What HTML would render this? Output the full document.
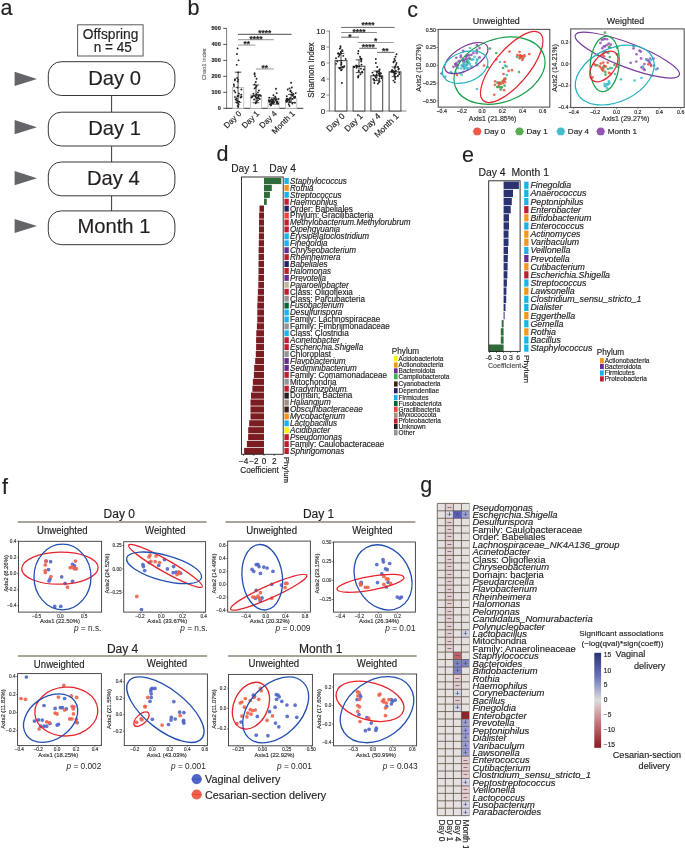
<!DOCTYPE html><html><head><meta charset="utf-8"><style>html,body{margin:0;padding:0;background:#fff;}svg{display:block;will-change:transform;font-family:"Liberation Sans", sans-serif;}</style></head><body><svg width="685" height="848" viewBox="0 0 685 848" fill="#231f20"><rect width="685" height="848" fill="#fff"/><text x="0.60" y="14.80" font-size="21.5px" stroke="#231f20" stroke-width="0.16">a</text>
<rect x="77.60" y="24.80" width="65.50" height="31.20" fill="#fff" stroke="#58595b" stroke-width="1.0"/>
<text x="0" y="0" transform="translate(110.60,38.70) scale(1,1.09)" font-size="13.8px" stroke="#231f20" stroke-width="0.16" text-anchor="middle">Offspring</text>
<text x="0" y="0" transform="translate(112.70,52.10) scale(1,1.1)" font-size="13.6px" stroke="#231f20" stroke-width="0.16" text-anchor="middle">n = 45</text>
<rect x="48.30" y="61.70" width="126.60" height="33.80" fill="#fff" stroke="#231f20" stroke-width="0.9" rx="13"/>
<text x="114.50" y="85.40" font-size="20.2px" stroke="#231f20" stroke-width="0.16" text-anchor="middle">Day 0</text>
<polygon points="14.6,71.80 37,78.90 14.6,86.00" fill="#646569"/>
<line x1="111.60" y1="95.70" x2="111.60" y2="112.20" stroke="#231f20" stroke-width="0.9"/>
<rect x="48.30" y="112.20" width="126.60" height="33.80" fill="#fff" stroke="#231f20" stroke-width="0.9" rx="13"/>
<text x="114.50" y="134.70" font-size="20.2px" stroke="#231f20" stroke-width="0.16" text-anchor="middle">Day 1</text>
<polygon points="14.6,120.10 37,127.20 14.6,134.30" fill="#646569"/>
<line x1="111.60" y1="146.20" x2="111.60" y2="162.00" stroke="#231f20" stroke-width="0.9"/>
<rect x="48.30" y="162.00" width="126.60" height="33.80" fill="#fff" stroke="#231f20" stroke-width="0.9" rx="13"/>
<text x="113.30" y="184.60" font-size="20.2px" stroke="#231f20" stroke-width="0.16" text-anchor="middle">Day 4</text>
<polygon points="14.6,171.10 37,178.20 14.6,185.30" fill="#646569"/>
<line x1="111.60" y1="196.00" x2="111.60" y2="210.90" stroke="#231f20" stroke-width="0.9"/>
<rect x="48.30" y="210.90" width="126.60" height="33.80" fill="#fff" stroke="#231f20" stroke-width="0.9" rx="13"/>
<text x="113.90" y="232.90" font-size="20.2px" stroke="#231f20" stroke-width="0.16" text-anchor="middle">Month 1</text>
<polygon points="14.6,218.90 37,226.00 14.6,233.10" fill="#646569"/>
<text x="187.40" y="15.10" font-size="21.5px" stroke="#231f20" stroke-width="0.16">b</text>
<line x1="226.60" y1="28.40" x2="226.60" y2="108.70" stroke="#7f7f7f" stroke-width="1.0"/>
<line x1="226.20" y1="108.30" x2="303.30" y2="108.30" stroke="#231f20" stroke-width="0.9"/>
<line x1="223.30" y1="108.30" x2="226.60" y2="108.30" stroke="#231f20" stroke-width="0.8"/>
<text x="220.80" y="110.30" font-size="5.6px" stroke="#231f20" stroke-width="0.16" text-anchor="end" font-weight="bold">0</text>
<line x1="223.30" y1="92.33" x2="226.60" y2="92.33" stroke="#231f20" stroke-width="0.8"/>
<text x="220.80" y="94.33" font-size="5.6px" stroke="#231f20" stroke-width="0.16" text-anchor="end" font-weight="bold">100</text>
<line x1="223.30" y1="76.35" x2="226.60" y2="76.35" stroke="#231f20" stroke-width="0.8"/>
<text x="220.80" y="78.35" font-size="5.6px" stroke="#231f20" stroke-width="0.16" text-anchor="end" font-weight="bold">200</text>
<line x1="223.30" y1="60.37" x2="226.60" y2="60.37" stroke="#231f20" stroke-width="0.8"/>
<text x="220.80" y="62.37" font-size="5.6px" stroke="#231f20" stroke-width="0.16" text-anchor="end" font-weight="bold">300</text>
<line x1="223.30" y1="44.40" x2="226.60" y2="44.40" stroke="#231f20" stroke-width="0.8"/>
<text x="220.80" y="46.40" font-size="5.6px" stroke="#231f20" stroke-width="0.16" text-anchor="end" font-weight="bold">400</text>
<line x1="223.30" y1="28.42" x2="226.60" y2="28.42" stroke="#231f20" stroke-width="0.8"/>
<text x="220.80" y="30.42" font-size="5.6px" stroke="#231f20" stroke-width="0.16" text-anchor="end" font-weight="bold">500</text>
<text x="0" y="0" transform="translate(205.90,64.20) rotate(-90)" font-size="5.6px" stroke="#6d6e71" stroke-width="0.16" text-anchor="middle" fill="#6d6e71">Chao1 Index</text>
<rect x="232.50" y="87.53" width="11.20" height="20.77" fill="#fff" stroke="#bcbec0" stroke-width="0.9"/>
<rect x="250.40" y="94.88" width="11.20" height="13.42" fill="#fff" stroke="#bcbec0" stroke-width="0.9"/>
<rect x="268.00" y="101.11" width="11.20" height="7.19" fill="#fff" stroke="#bcbec0" stroke-width="0.9"/>
<rect x="285.60" y="98.56" width="11.20" height="9.74" fill="#fff" stroke="#bcbec0" stroke-width="0.9"/>
<circle cx="237.54" cy="48.39" r="0.95" fill="#231f20"/>
<circle cx="236.98" cy="53.98" r="0.95" fill="#231f20"/>
<circle cx="238.58" cy="60.37" r="0.95" fill="#231f20"/>
<circle cx="236.73" cy="64.85" r="0.95" fill="#231f20"/>
<circle cx="238.21" cy="72.36" r="0.95" fill="#231f20"/>
<circle cx="237.16" cy="77.95" r="0.95" fill="#231f20"/>
<circle cx="235.01" cy="79.23" r="0.95" fill="#231f20"/>
<circle cx="238.15" cy="79.86" r="0.95" fill="#231f20"/>
<circle cx="234.86" cy="80.34" r="0.95" fill="#231f20"/>
<circle cx="237.64" cy="81.46" r="0.95" fill="#231f20"/>
<circle cx="233.80" cy="84.34" r="0.95" fill="#231f20"/>
<circle cx="234.01" cy="85.94" r="0.95" fill="#231f20"/>
<circle cx="237.35" cy="87.53" r="0.95" fill="#231f20"/>
<circle cx="241.37" cy="89.45" r="0.95" fill="#231f20"/>
<circle cx="234.34" cy="90.73" r="0.95" fill="#231f20"/>
<circle cx="235.33" cy="92.33" r="0.95" fill="#231f20"/>
<circle cx="238.99" cy="93.60" r="0.95" fill="#231f20"/>
<circle cx="241.23" cy="94.72" r="0.95" fill="#231f20"/>
<circle cx="238.64" cy="95.84" r="0.95" fill="#231f20"/>
<circle cx="237.38" cy="96.32" r="0.95" fill="#231f20"/>
<circle cx="241.43" cy="96.80" r="0.95" fill="#231f20"/>
<circle cx="234.93" cy="97.12" r="0.95" fill="#231f20"/>
<circle cx="240.61" cy="97.44" r="0.95" fill="#231f20"/>
<circle cx="236.63" cy="98.40" r="0.95" fill="#231f20"/>
<circle cx="235.61" cy="99.51" r="0.95" fill="#231f20"/>
<circle cx="236.88" cy="100.31" r="0.95" fill="#231f20"/>
<circle cx="237.49" cy="101.11" r="0.95" fill="#231f20"/>
<circle cx="239.11" cy="101.59" r="0.95" fill="#231f20"/>
<circle cx="237.08" cy="102.71" r="0.95" fill="#231f20"/>
<circle cx="238.36" cy="103.83" r="0.95" fill="#231f20"/>
<circle cx="238.54" cy="104.79" r="0.95" fill="#231f20"/>
<circle cx="237.69" cy="105.90" r="0.95" fill="#231f20"/>
<circle cx="238.25" cy="107.02" r="0.95" fill="#231f20"/>
<line x1="238.10" y1="72.20" x2="238.10" y2="102.29" stroke="#231f20" stroke-width="0.8"/>
<line x1="234.80" y1="72.20" x2="241.40" y2="72.20" stroke="#231f20" stroke-width="0.8"/>
<line x1="234.80" y1="102.29" x2="241.40" y2="102.29" stroke="#231f20" stroke-width="0.8"/>
<circle cx="254.60" cy="73.16" r="0.95" fill="#231f20"/>
<circle cx="254.59" cy="74.43" r="0.95" fill="#231f20"/>
<circle cx="255.06" cy="76.35" r="0.95" fill="#231f20"/>
<circle cx="256.58" cy="78.75" r="0.95" fill="#231f20"/>
<circle cx="255.77" cy="81.94" r="0.95" fill="#231f20"/>
<circle cx="254.70" cy="84.34" r="0.95" fill="#231f20"/>
<circle cx="256.60" cy="85.94" r="0.95" fill="#231f20"/>
<circle cx="255.67" cy="87.53" r="0.95" fill="#231f20"/>
<circle cx="254.60" cy="88.33" r="0.95" fill="#231f20"/>
<circle cx="258.94" cy="90.41" r="0.95" fill="#231f20"/>
<circle cx="257.99" cy="92.33" r="0.95" fill="#231f20"/>
<circle cx="253.44" cy="93.60" r="0.95" fill="#231f20"/>
<circle cx="256.74" cy="94.24" r="0.95" fill="#231f20"/>
<circle cx="256.25" cy="94.72" r="0.95" fill="#231f20"/>
<circle cx="259.75" cy="95.04" r="0.95" fill="#231f20"/>
<circle cx="258.29" cy="95.20" r="0.95" fill="#231f20"/>
<circle cx="253.88" cy="95.52" r="0.95" fill="#231f20"/>
<circle cx="260.80" cy="95.84" r="0.95" fill="#231f20"/>
<circle cx="252.18" cy="96.16" r="0.95" fill="#231f20"/>
<circle cx="255.18" cy="96.32" r="0.95" fill="#231f20"/>
<circle cx="258.57" cy="96.48" r="0.95" fill="#231f20"/>
<circle cx="252.52" cy="96.80" r="0.95" fill="#231f20"/>
<circle cx="255.89" cy="97.12" r="0.95" fill="#231f20"/>
<circle cx="251.39" cy="97.44" r="0.95" fill="#231f20"/>
<circle cx="257.68" cy="97.76" r="0.95" fill="#231f20"/>
<circle cx="258.65" cy="98.08" r="0.95" fill="#231f20"/>
<circle cx="256.73" cy="98.40" r="0.95" fill="#231f20"/>
<circle cx="259.75" cy="99.03" r="0.95" fill="#231f20"/>
<circle cx="254.14" cy="99.51" r="0.95" fill="#231f20"/>
<circle cx="257.95" cy="100.31" r="0.95" fill="#231f20"/>
<circle cx="256.66" cy="101.11" r="0.95" fill="#231f20"/>
<circle cx="256.56" cy="102.23" r="0.95" fill="#231f20"/>
<circle cx="255.69" cy="103.19" r="0.95" fill="#231f20"/>
<line x1="256.00" y1="84.98" x2="256.00" y2="102.71" stroke="#231f20" stroke-width="0.8"/>
<line x1="252.70" y1="84.98" x2="259.30" y2="84.98" stroke="#231f20" stroke-width="0.8"/>
<line x1="252.70" y1="102.71" x2="259.30" y2="102.71" stroke="#231f20" stroke-width="0.8"/>
<circle cx="275.98" cy="88.81" r="0.95" fill="#231f20"/>
<circle cx="276.71" cy="93.12" r="0.95" fill="#231f20"/>
<circle cx="273.42" cy="95.20" r="0.95" fill="#231f20"/>
<circle cx="275.24" cy="96.80" r="0.95" fill="#231f20"/>
<circle cx="269.21" cy="97.76" r="0.95" fill="#231f20"/>
<circle cx="275.61" cy="98.40" r="0.95" fill="#231f20"/>
<circle cx="275.07" cy="98.72" r="0.95" fill="#231f20"/>
<circle cx="278.53" cy="99.03" r="0.95" fill="#231f20"/>
<circle cx="276.82" cy="99.35" r="0.95" fill="#231f20"/>
<circle cx="271.45" cy="99.51" r="0.95" fill="#231f20"/>
<circle cx="272.46" cy="99.67" r="0.95" fill="#231f20"/>
<circle cx="275.29" cy="99.99" r="0.95" fill="#231f20"/>
<circle cx="268.83" cy="100.31" r="0.95" fill="#231f20"/>
<circle cx="273.22" cy="100.47" r="0.95" fill="#231f20"/>
<circle cx="270.28" cy="100.63" r="0.95" fill="#231f20"/>
<circle cx="269.77" cy="100.79" r="0.95" fill="#231f20"/>
<circle cx="269.19" cy="100.95" r="0.95" fill="#231f20"/>
<circle cx="276.28" cy="101.11" r="0.95" fill="#231f20"/>
<circle cx="269.89" cy="101.27" r="0.95" fill="#231f20"/>
<circle cx="271.08" cy="101.43" r="0.95" fill="#231f20"/>
<circle cx="272.51" cy="101.59" r="0.95" fill="#231f20"/>
<circle cx="277.31" cy="101.75" r="0.95" fill="#231f20"/>
<circle cx="269.41" cy="101.91" r="0.95" fill="#231f20"/>
<circle cx="273.09" cy="102.07" r="0.95" fill="#231f20"/>
<circle cx="274.09" cy="102.23" r="0.95" fill="#231f20"/>
<circle cx="277.43" cy="102.39" r="0.95" fill="#231f20"/>
<circle cx="276.79" cy="102.55" r="0.95" fill="#231f20"/>
<circle cx="277.24" cy="102.71" r="0.95" fill="#231f20"/>
<circle cx="271.38" cy="102.87" r="0.95" fill="#231f20"/>
<circle cx="272.75" cy="103.03" r="0.95" fill="#231f20"/>
<circle cx="272.19" cy="103.19" r="0.95" fill="#231f20"/>
<circle cx="277.44" cy="103.51" r="0.95" fill="#231f20"/>
<circle cx="278.18" cy="103.83" r="0.95" fill="#231f20"/>
<circle cx="270.11" cy="104.15" r="0.95" fill="#231f20"/>
<circle cx="270.36" cy="104.47" r="0.95" fill="#231f20"/>
<circle cx="270.92" cy="104.79" r="0.95" fill="#231f20"/>
<circle cx="270.93" cy="105.42" r="0.95" fill="#231f20"/>
<line x1="273.60" y1="97.92" x2="273.60" y2="104.15" stroke="#231f20" stroke-width="0.8"/>
<line x1="270.30" y1="97.92" x2="276.90" y2="97.92" stroke="#231f20" stroke-width="0.8"/>
<line x1="270.30" y1="104.15" x2="276.90" y2="104.15" stroke="#231f20" stroke-width="0.8"/>
<circle cx="291.15" cy="82.74" r="0.95" fill="#231f20"/>
<circle cx="291.82" cy="87.53" r="0.95" fill="#231f20"/>
<circle cx="289.54" cy="88.33" r="0.95" fill="#231f20"/>
<circle cx="287.73" cy="89.45" r="0.95" fill="#231f20"/>
<circle cx="290.63" cy="90.41" r="0.95" fill="#231f20"/>
<circle cx="290.28" cy="91.37" r="0.95" fill="#231f20"/>
<circle cx="291.66" cy="92.33" r="0.95" fill="#231f20"/>
<circle cx="295.73" cy="93.12" r="0.95" fill="#231f20"/>
<circle cx="293.10" cy="93.92" r="0.95" fill="#231f20"/>
<circle cx="291.35" cy="94.56" r="0.95" fill="#231f20"/>
<circle cx="292.38" cy="95.20" r="0.95" fill="#231f20"/>
<circle cx="292.96" cy="95.84" r="0.95" fill="#231f20"/>
<circle cx="286.74" cy="96.32" r="0.95" fill="#231f20"/>
<circle cx="295.20" cy="96.80" r="0.95" fill="#231f20"/>
<circle cx="294.00" cy="97.12" r="0.95" fill="#231f20"/>
<circle cx="294.95" cy="97.44" r="0.95" fill="#231f20"/>
<circle cx="294.18" cy="97.76" r="0.95" fill="#231f20"/>
<circle cx="290.12" cy="98.08" r="0.95" fill="#231f20"/>
<circle cx="290.19" cy="98.40" r="0.95" fill="#231f20"/>
<circle cx="287.24" cy="98.72" r="0.95" fill="#231f20"/>
<circle cx="292.54" cy="99.03" r="0.95" fill="#231f20"/>
<circle cx="286.82" cy="99.19" r="0.95" fill="#231f20"/>
<circle cx="286.87" cy="99.35" r="0.95" fill="#231f20"/>
<circle cx="288.29" cy="99.51" r="0.95" fill="#231f20"/>
<circle cx="287.82" cy="99.67" r="0.95" fill="#231f20"/>
<circle cx="289.60" cy="99.99" r="0.95" fill="#231f20"/>
<circle cx="286.73" cy="100.31" r="0.95" fill="#231f20"/>
<circle cx="286.20" cy="100.63" r="0.95" fill="#231f20"/>
<circle cx="287.71" cy="100.95" r="0.95" fill="#231f20"/>
<circle cx="287.21" cy="101.27" r="0.95" fill="#231f20"/>
<circle cx="289.84" cy="101.59" r="0.95" fill="#231f20"/>
<circle cx="286.46" cy="101.91" r="0.95" fill="#231f20"/>
<circle cx="294.94" cy="102.71" r="0.95" fill="#231f20"/>
<circle cx="292.34" cy="103.51" r="0.95" fill="#231f20"/>
<circle cx="288.74" cy="104.31" r="0.95" fill="#231f20"/>
<circle cx="289.47" cy="105.90" r="0.95" fill="#231f20"/>
<line x1="291.20" y1="94.40" x2="291.20" y2="102.55" stroke="#231f20" stroke-width="0.8"/>
<line x1="287.90" y1="94.40" x2="294.50" y2="94.40" stroke="#231f20" stroke-width="0.8"/>
<line x1="287.90" y1="102.55" x2="294.50" y2="102.55" stroke="#231f20" stroke-width="0.8"/>
<line x1="238.00" y1="34.30" x2="291.60" y2="34.30" stroke="#231f20" stroke-width="0.8"/>
<text x="264.80" y="35.97" font-size="8.4px" stroke="#231f20" stroke-width="0.16" text-anchor="middle" font-weight="bold">****</text>
<line x1="238.00" y1="39.60" x2="273.80" y2="39.60" stroke="#a7a9ac" stroke-width="1.2"/>
<text x="256.00" y="41.67" font-size="8.4px" stroke="#231f20" stroke-width="0.16" text-anchor="middle" font-weight="bold">****</text>
<line x1="238.00" y1="45.10" x2="255.40" y2="45.10" stroke="#a7a9ac" stroke-width="1.2"/>
<text x="246.80" y="47.07" font-size="8.4px" stroke="#231f20" stroke-width="0.16" text-anchor="middle" font-weight="bold">**</text>
<line x1="255.80" y1="69.00" x2="273.80" y2="69.00" stroke="#a7a9ac" stroke-width="1.2"/>
<text x="264.80" y="70.87" font-size="8.4px" stroke="#231f20" stroke-width="0.16" text-anchor="middle" font-weight="bold">**</text>
<text x="0" y="0" transform="translate(241.90,114.00) rotate(-45)" font-size="8.0px" stroke="#231f20" stroke-width="0.16" text-anchor="end">Day 0</text>
<text x="0" y="0" transform="translate(259.70,114.00) rotate(-45)" font-size="8.0px" stroke="#231f20" stroke-width="0.16" text-anchor="end">Day 1</text>
<text x="0" y="0" transform="translate(277.40,114.00) rotate(-45)" font-size="8.0px" stroke="#231f20" stroke-width="0.16" text-anchor="end">Day 4</text>
<text x="0" y="0" transform="translate(295.40,114.00) rotate(-45)" font-size="8.0px" stroke="#231f20" stroke-width="0.16" text-anchor="end">Month 1</text>
<line x1="329.40" y1="30.60" x2="329.40" y2="111.40" stroke="#808285" stroke-width="1.0"/>
<line x1="329.00" y1="111.00" x2="406.50" y2="111.00" stroke="#808285" stroke-width="1.0"/>
<line x1="326.40" y1="111.00" x2="329.40" y2="111.00" stroke="#808285" stroke-width="0.9"/>
<text x="325.30" y="113.90" font-size="8.1px" stroke="#231f20" stroke-width="0.16" text-anchor="end">0</text>
<line x1="326.40" y1="95.01" x2="329.40" y2="95.01" stroke="#808285" stroke-width="0.9"/>
<text x="325.30" y="97.91" font-size="8.1px" stroke="#231f20" stroke-width="0.16" text-anchor="end">2</text>
<line x1="326.40" y1="79.02" x2="329.40" y2="79.02" stroke="#808285" stroke-width="0.9"/>
<text x="325.30" y="81.92" font-size="8.1px" stroke="#231f20" stroke-width="0.16" text-anchor="end">4</text>
<line x1="326.40" y1="63.03" x2="329.40" y2="63.03" stroke="#808285" stroke-width="0.9"/>
<text x="325.30" y="65.93" font-size="8.1px" stroke="#231f20" stroke-width="0.16" text-anchor="end">6</text>
<line x1="326.40" y1="47.04" x2="329.40" y2="47.04" stroke="#808285" stroke-width="0.9"/>
<text x="325.30" y="49.94" font-size="8.1px" stroke="#231f20" stroke-width="0.16" text-anchor="end">8</text>
<line x1="326.40" y1="31.05" x2="329.40" y2="31.05" stroke="#808285" stroke-width="0.9"/>
<text x="325.30" y="33.95" font-size="8.1px" stroke="#231f20" stroke-width="0.16" text-anchor="end">10</text>
<text x="0" y="0" transform="translate(314.00,70.10) rotate(-90)" font-size="8.2px" stroke="#231f20" stroke-width="0.16" text-anchor="middle">Shannon Index</text>
<rect x="335.10" y="60.63" width="11.80" height="50.37" fill="#fff" stroke="#444446" stroke-width="1.0"/>
<rect x="353.10" y="66.23" width="11.80" height="44.77" fill="#fff" stroke="#444446" stroke-width="1.0"/>
<rect x="370.90" y="75.82" width="11.80" height="35.18" fill="#fff" stroke="#444446" stroke-width="1.0"/>
<rect x="389.10" y="71.82" width="11.80" height="39.18" fill="#fff" stroke="#444446" stroke-width="1.0"/>
<circle cx="340.51" cy="46.24" r="0.95" fill="#231f20"/>
<circle cx="340.57" cy="47.84" r="0.95" fill="#231f20"/>
<circle cx="339.79" cy="48.64" r="0.95" fill="#231f20"/>
<circle cx="342.12" cy="50.24" r="0.95" fill="#231f20"/>
<circle cx="342.58" cy="51.04" r="0.95" fill="#231f20"/>
<circle cx="340.89" cy="51.84" r="0.95" fill="#231f20"/>
<circle cx="340.95" cy="52.64" r="0.95" fill="#231f20"/>
<circle cx="338.10" cy="53.44" r="0.95" fill="#231f20"/>
<circle cx="338.22" cy="53.44" r="0.95" fill="#231f20"/>
<circle cx="339.90" cy="54.24" r="0.95" fill="#231f20"/>
<circle cx="339.35" cy="55.03" r="0.95" fill="#231f20"/>
<circle cx="343.30" cy="55.83" r="0.95" fill="#231f20"/>
<circle cx="338.63" cy="56.63" r="0.95" fill="#231f20"/>
<circle cx="336.04" cy="58.23" r="0.95" fill="#231f20"/>
<circle cx="345.69" cy="59.03" r="0.95" fill="#231f20"/>
<circle cx="341.29" cy="60.63" r="0.95" fill="#231f20"/>
<circle cx="337.32" cy="61.43" r="0.95" fill="#231f20"/>
<circle cx="341.45" cy="63.03" r="0.95" fill="#231f20"/>
<circle cx="336.08" cy="63.83" r="0.95" fill="#231f20"/>
<circle cx="341.20" cy="64.63" r="0.95" fill="#231f20"/>
<circle cx="344.35" cy="66.23" r="0.95" fill="#231f20"/>
<circle cx="343.54" cy="67.03" r="0.95" fill="#231f20"/>
<circle cx="342.37" cy="67.03" r="0.95" fill="#231f20"/>
<circle cx="339.33" cy="67.83" r="0.95" fill="#231f20"/>
<circle cx="340.07" cy="67.83" r="0.95" fill="#231f20"/>
<circle cx="339.93" cy="68.63" r="0.95" fill="#231f20"/>
<circle cx="341.87" cy="69.43" r="0.95" fill="#231f20"/>
<circle cx="341.10" cy="70.23" r="0.95" fill="#231f20"/>
<circle cx="341.89" cy="83.02" r="0.95" fill="#231f20"/>
<line x1="341.00" y1="53.44" x2="341.00" y2="67.83" stroke="#231f20" stroke-width="0.8"/>
<line x1="337.70" y1="53.44" x2="344.30" y2="53.44" stroke="#231f20" stroke-width="0.8"/>
<line x1="337.70" y1="67.83" x2="344.30" y2="67.83" stroke="#231f20" stroke-width="0.8"/>
<circle cx="358.45" cy="51.04" r="0.95" fill="#231f20"/>
<circle cx="358.11" cy="53.44" r="0.95" fill="#231f20"/>
<circle cx="360.00" cy="56.63" r="0.95" fill="#231f20"/>
<circle cx="360.55" cy="58.23" r="0.95" fill="#231f20"/>
<circle cx="361.47" cy="59.03" r="0.95" fill="#231f20"/>
<circle cx="361.14" cy="59.83" r="0.95" fill="#231f20"/>
<circle cx="361.23" cy="61.43" r="0.95" fill="#231f20"/>
<circle cx="361.49" cy="64.63" r="0.95" fill="#231f20"/>
<circle cx="356.16" cy="65.43" r="0.95" fill="#231f20"/>
<circle cx="359.18" cy="66.23" r="0.95" fill="#231f20"/>
<circle cx="357.50" cy="66.23" r="0.95" fill="#231f20"/>
<circle cx="354.10" cy="67.03" r="0.95" fill="#231f20"/>
<circle cx="354.09" cy="67.03" r="0.95" fill="#231f20"/>
<circle cx="356.71" cy="67.03" r="0.95" fill="#231f20"/>
<circle cx="356.50" cy="67.83" r="0.95" fill="#231f20"/>
<circle cx="361.00" cy="68.63" r="0.95" fill="#231f20"/>
<circle cx="363.75" cy="69.43" r="0.95" fill="#231f20"/>
<circle cx="358.63" cy="71.03" r="0.95" fill="#231f20"/>
<circle cx="362.06" cy="71.82" r="0.95" fill="#231f20"/>
<circle cx="362.42" cy="72.62" r="0.95" fill="#231f20"/>
<circle cx="360.46" cy="74.22" r="0.95" fill="#231f20"/>
<circle cx="358.57" cy="75.82" r="0.95" fill="#231f20"/>
<circle cx="358.11" cy="76.62" r="0.95" fill="#231f20"/>
<circle cx="358.13" cy="77.42" r="0.95" fill="#231f20"/>
<line x1="359.00" y1="59.83" x2="359.00" y2="72.62" stroke="#231f20" stroke-width="0.8"/>
<line x1="355.70" y1="59.83" x2="362.30" y2="59.83" stroke="#231f20" stroke-width="0.8"/>
<line x1="355.70" y1="72.62" x2="362.30" y2="72.62" stroke="#231f20" stroke-width="0.8"/>
<circle cx="375.83" cy="59.03" r="0.95" fill="#231f20"/>
<circle cx="375.85" cy="63.03" r="0.95" fill="#231f20"/>
<circle cx="377.20" cy="67.03" r="0.95" fill="#231f20"/>
<circle cx="379.60" cy="69.43" r="0.95" fill="#231f20"/>
<circle cx="379.18" cy="71.03" r="0.95" fill="#231f20"/>
<circle cx="376.66" cy="71.82" r="0.95" fill="#231f20"/>
<circle cx="377.87" cy="71.82" r="0.95" fill="#231f20"/>
<circle cx="379.92" cy="72.62" r="0.95" fill="#231f20"/>
<circle cx="372.48" cy="72.62" r="0.95" fill="#231f20"/>
<circle cx="378.47" cy="73.42" r="0.95" fill="#231f20"/>
<circle cx="381.06" cy="73.42" r="0.95" fill="#231f20"/>
<circle cx="379.74" cy="74.22" r="0.95" fill="#231f20"/>
<circle cx="379.40" cy="74.22" r="0.95" fill="#231f20"/>
<circle cx="376.57" cy="75.02" r="0.95" fill="#231f20"/>
<circle cx="373.46" cy="75.02" r="0.95" fill="#231f20"/>
<circle cx="379.81" cy="75.82" r="0.95" fill="#231f20"/>
<circle cx="375.06" cy="75.82" r="0.95" fill="#231f20"/>
<circle cx="379.93" cy="76.62" r="0.95" fill="#231f20"/>
<circle cx="381.71" cy="76.62" r="0.95" fill="#231f20"/>
<circle cx="375.72" cy="77.42" r="0.95" fill="#231f20"/>
<circle cx="375.77" cy="77.42" r="0.95" fill="#231f20"/>
<circle cx="381.45" cy="78.22" r="0.95" fill="#231f20"/>
<circle cx="379.14" cy="79.02" r="0.95" fill="#231f20"/>
<circle cx="373.37" cy="79.02" r="0.95" fill="#231f20"/>
<circle cx="374.19" cy="79.82" r="0.95" fill="#231f20"/>
<circle cx="374.36" cy="80.62" r="0.95" fill="#231f20"/>
<circle cx="379.63" cy="81.42" r="0.95" fill="#231f20"/>
<circle cx="378.95" cy="82.22" r="0.95" fill="#231f20"/>
<circle cx="374.32" cy="83.02" r="0.95" fill="#231f20"/>
<circle cx="377.84" cy="83.82" r="0.95" fill="#231f20"/>
<line x1="376.80" y1="71.03" x2="376.80" y2="80.62" stroke="#231f20" stroke-width="0.8"/>
<line x1="373.50" y1="71.03" x2="380.10" y2="71.03" stroke="#231f20" stroke-width="0.8"/>
<line x1="373.50" y1="80.62" x2="380.10" y2="80.62" stroke="#231f20" stroke-width="0.8"/>
<circle cx="396.54" cy="54.24" r="0.95" fill="#231f20"/>
<circle cx="395.50" cy="56.63" r="0.95" fill="#231f20"/>
<circle cx="394.52" cy="59.03" r="0.95" fill="#231f20"/>
<circle cx="395.16" cy="60.63" r="0.95" fill="#231f20"/>
<circle cx="393.82" cy="61.43" r="0.95" fill="#231f20"/>
<circle cx="393.45" cy="62.23" r="0.95" fill="#231f20"/>
<circle cx="396.51" cy="63.03" r="0.95" fill="#231f20"/>
<circle cx="396.05" cy="64.63" r="0.95" fill="#231f20"/>
<circle cx="395.19" cy="66.23" r="0.95" fill="#231f20"/>
<circle cx="398.04" cy="67.03" r="0.95" fill="#231f20"/>
<circle cx="394.54" cy="67.83" r="0.95" fill="#231f20"/>
<circle cx="398.87" cy="68.63" r="0.95" fill="#231f20"/>
<circle cx="398.39" cy="69.43" r="0.95" fill="#231f20"/>
<circle cx="391.99" cy="70.23" r="0.95" fill="#231f20"/>
<circle cx="392.42" cy="70.23" r="0.95" fill="#231f20"/>
<circle cx="392.85" cy="71.03" r="0.95" fill="#231f20"/>
<circle cx="392.30" cy="71.03" r="0.95" fill="#231f20"/>
<circle cx="395.90" cy="71.03" r="0.95" fill="#231f20"/>
<circle cx="392.50" cy="71.82" r="0.95" fill="#231f20"/>
<circle cx="394.16" cy="71.82" r="0.95" fill="#231f20"/>
<circle cx="391.16" cy="71.82" r="0.95" fill="#231f20"/>
<circle cx="399.26" cy="72.62" r="0.95" fill="#231f20"/>
<circle cx="393.48" cy="72.62" r="0.95" fill="#231f20"/>
<circle cx="394.56" cy="73.42" r="0.95" fill="#231f20"/>
<circle cx="395.87" cy="73.42" r="0.95" fill="#231f20"/>
<circle cx="399.20" cy="74.22" r="0.95" fill="#231f20"/>
<circle cx="394.17" cy="75.02" r="0.95" fill="#231f20"/>
<circle cx="397.92" cy="75.82" r="0.95" fill="#231f20"/>
<circle cx="395.01" cy="76.62" r="0.95" fill="#231f20"/>
<circle cx="395.22" cy="77.42" r="0.95" fill="#231f20"/>
<circle cx="395.16" cy="79.02" r="0.95" fill="#231f20"/>
<circle cx="393.46" cy="80.62" r="0.95" fill="#231f20"/>
<circle cx="394.81" cy="82.22" r="0.95" fill="#231f20"/>
<line x1="395.00" y1="67.03" x2="395.00" y2="76.62" stroke="#231f20" stroke-width="0.8"/>
<line x1="391.70" y1="67.03" x2="398.30" y2="67.03" stroke="#231f20" stroke-width="0.8"/>
<line x1="391.70" y1="76.62" x2="398.30" y2="76.62" stroke="#231f20" stroke-width="0.8"/>
<line x1="341.10" y1="27.40" x2="394.50" y2="27.40" stroke="#414042" stroke-width="0.8"/>
<text x="367.90" y="28.37" font-size="8.4px" stroke="#231f20" stroke-width="0.16" text-anchor="middle" font-weight="bold">****</text>
<line x1="341.10" y1="32.50" x2="376.90" y2="32.50" stroke="#6d6e71" stroke-width="0.8"/>
<text x="359.00" y="34.97" font-size="8.4px" stroke="#231f20" stroke-width="0.16" text-anchor="middle" font-weight="bold">****</text>
<line x1="341.10" y1="37.20" x2="359.00" y2="37.20" stroke="#414042" stroke-width="0.8"/>
<text x="350.00" y="40.07" font-size="8.4px" stroke="#231f20" stroke-width="0.16" text-anchor="middle" font-weight="bold">*</text>
<line x1="357.70" y1="42.50" x2="393.70" y2="42.50" stroke="#808285" stroke-width="0.8"/>
<text x="375.70" y="44.37" font-size="8.4px" stroke="#231f20" stroke-width="0.16" text-anchor="middle" font-weight="bold">*</text>
<line x1="359.20" y1="48.30" x2="376.90" y2="48.30" stroke="#414042" stroke-width="0.8"/>
<text x="368.20" y="49.87" font-size="8.4px" stroke="#231f20" stroke-width="0.16" text-anchor="middle" font-weight="bold">****</text>
<line x1="377.10" y1="52.40" x2="394.50" y2="52.40" stroke="#414042" stroke-width="0.8"/>
<text x="385.30" y="53.97" font-size="8.4px" stroke="#231f20" stroke-width="0.16" text-anchor="middle" font-weight="bold">**</text>
<text x="0" y="0" transform="translate(345.20,116.70) rotate(-45)" font-size="8.4px" stroke="#231f20" stroke-width="0.16" text-anchor="end">Day 0</text>
<text x="0" y="0" transform="translate(363.20,116.70) rotate(-45)" font-size="8.4px" stroke="#231f20" stroke-width="0.16" text-anchor="end">Day 1</text>
<text x="0" y="0" transform="translate(381.00,116.70) rotate(-45)" font-size="8.4px" stroke="#231f20" stroke-width="0.16" text-anchor="end">Day 4</text>
<text x="0" y="0" transform="translate(399.20,116.70) rotate(-45)" font-size="8.4px" stroke="#231f20" stroke-width="0.16" text-anchor="end">Month 1</text>
<text x="407.30" y="16.60" font-size="21.5px" stroke="#231f20" stroke-width="0.16">c</text>
<text x="0" y="0" transform="translate(496.30,23.60) scale(1,1.1)" font-size="8.9px" stroke="#231f20" stroke-width="0.16" text-anchor="middle">Unweighted</text>
<circle cx="466.44" cy="58.58" r="1.35" fill="#9150b4" fill-opacity="0.85"/>
<circle cx="466.48" cy="55.78" r="1.35" fill="#9150b4" fill-opacity="0.85"/>
<circle cx="453.44" cy="66.86" r="1.35" fill="#9150b4" fill-opacity="0.85"/>
<circle cx="458.59" cy="61.49" r="1.35" fill="#9150b4" fill-opacity="0.85"/>
<circle cx="455.33" cy="64.05" r="1.35" fill="#9150b4" fill-opacity="0.85"/>
<circle cx="466.00" cy="56.58" r="1.35" fill="#9150b4" fill-opacity="0.85"/>
<circle cx="459.72" cy="60.96" r="1.35" fill="#9150b4" fill-opacity="0.85"/>
<circle cx="466.67" cy="65.16" r="1.35" fill="#9150b4" fill-opacity="0.85"/>
<circle cx="455.33" cy="64.40" r="1.35" fill="#9150b4" fill-opacity="0.85"/>
<circle cx="463.17" cy="50.97" r="1.35" fill="#9150b4" fill-opacity="0.85"/>
<circle cx="456.25" cy="66.13" r="1.35" fill="#9150b4" fill-opacity="0.85"/>
<circle cx="456.07" cy="64.06" r="1.35" fill="#9150b4" fill-opacity="0.85"/>
<circle cx="460.97" cy="57.13" r="1.35" fill="#9150b4" fill-opacity="0.85"/>
<circle cx="456.40" cy="63.06" r="1.35" fill="#9150b4" fill-opacity="0.85"/>
<circle cx="476.90" cy="49.89" r="1.35" fill="#9150b4" fill-opacity="0.85"/>
<circle cx="477.01" cy="45.19" r="1.35" fill="#9150b4" fill-opacity="0.85"/>
<circle cx="467.67" cy="62.85" r="1.35" fill="#9150b4" fill-opacity="0.85"/>
<circle cx="479.56" cy="47.90" r="1.35" fill="#9150b4" fill-opacity="0.85"/>
<circle cx="469.42" cy="58.13" r="1.35" fill="#9150b4" fill-opacity="0.85"/>
<circle cx="463.26" cy="60.65" r="1.35" fill="#9150b4" fill-opacity="0.85"/>
<circle cx="466.89" cy="59.60" r="1.35" fill="#9150b4" fill-opacity="0.85"/>
<circle cx="456.26" cy="57.76" r="1.35" fill="#9150b4" fill-opacity="0.85"/>
<circle cx="469.17" cy="55.22" r="1.35" fill="#9150b4" fill-opacity="0.85"/>
<circle cx="460.86" cy="55.50" r="1.35" fill="#9150b4" fill-opacity="0.85"/>
<circle cx="479.53" cy="57.42" r="1.35" fill="#9150b4" fill-opacity="0.85"/>
<circle cx="471.42" cy="54.78" r="1.35" fill="#9150b4" fill-opacity="0.85"/>
<circle cx="473.39" cy="53.00" r="1.35" fill="#9150b4" fill-opacity="0.85"/>
<circle cx="441.58" cy="73.60" r="1.35" fill="#9150b4" fill-opacity="0.85"/>
<circle cx="467.49" cy="55.50" r="1.35" fill="#9150b4" fill-opacity="0.85"/>
<circle cx="457.90" cy="65.26" r="1.35" fill="#9150b4" fill-opacity="0.85"/>
<circle cx="464.12" cy="61.91" r="1.35" fill="#9150b4" fill-opacity="0.85"/>
<circle cx="463.12" cy="66.21" r="1.35" fill="#9150b4" fill-opacity="0.85"/>
<circle cx="476.66" cy="52.99" r="1.35" fill="#9150b4" fill-opacity="0.85"/>
<circle cx="464.66" cy="59.56" r="1.35" fill="#9150b4" fill-opacity="0.85"/>
<circle cx="462.56" cy="65.56" r="1.35" fill="#9150b4" fill-opacity="0.85"/>
<circle cx="462.96" cy="60.14" r="1.35" fill="#9150b4" fill-opacity="0.85"/>
<circle cx="477.52" cy="59.20" r="1.35" fill="#3dbfcb" fill-opacity="0.85"/>
<circle cx="467.13" cy="64.42" r="1.35" fill="#3dbfcb" fill-opacity="0.85"/>
<circle cx="463.78" cy="67.68" r="1.35" fill="#3dbfcb" fill-opacity="0.85"/>
<circle cx="463.29" cy="62.98" r="1.35" fill="#3dbfcb" fill-opacity="0.85"/>
<circle cx="470.72" cy="66.66" r="1.35" fill="#3dbfcb" fill-opacity="0.85"/>
<circle cx="474.57" cy="56.81" r="1.35" fill="#3dbfcb" fill-opacity="0.85"/>
<circle cx="464.26" cy="68.78" r="1.35" fill="#3dbfcb" fill-opacity="0.85"/>
<circle cx="471.65" cy="59.77" r="1.35" fill="#3dbfcb" fill-opacity="0.85"/>
<circle cx="461.69" cy="65.44" r="1.35" fill="#3dbfcb" fill-opacity="0.85"/>
<circle cx="476.11" cy="63.12" r="1.35" fill="#3dbfcb" fill-opacity="0.85"/>
<circle cx="460.99" cy="68.48" r="1.35" fill="#3dbfcb" fill-opacity="0.85"/>
<circle cx="473.26" cy="59.46" r="1.35" fill="#3dbfcb" fill-opacity="0.85"/>
<circle cx="463.88" cy="64.48" r="1.35" fill="#3dbfcb" fill-opacity="0.85"/>
<circle cx="464.86" cy="64.52" r="1.35" fill="#3dbfcb" fill-opacity="0.85"/>
<circle cx="467.86" cy="60.60" r="1.35" fill="#3dbfcb" fill-opacity="0.85"/>
<circle cx="459.91" cy="73.16" r="1.35" fill="#3dbfcb" fill-opacity="0.85"/>
<circle cx="468.65" cy="62.47" r="1.35" fill="#3dbfcb" fill-opacity="0.85"/>
<circle cx="471.94" cy="66.68" r="1.35" fill="#3dbfcb" fill-opacity="0.85"/>
<circle cx="464.64" cy="68.20" r="1.35" fill="#3dbfcb" fill-opacity="0.85"/>
<circle cx="465.37" cy="66.89" r="1.35" fill="#3dbfcb" fill-opacity="0.85"/>
<circle cx="467.07" cy="68.66" r="1.35" fill="#3dbfcb" fill-opacity="0.85"/>
<circle cx="461.65" cy="74.72" r="1.35" fill="#3dbfcb" fill-opacity="0.85"/>
<circle cx="463.14" cy="71.95" r="1.35" fill="#3dbfcb" fill-opacity="0.85"/>
<circle cx="468.27" cy="68.12" r="1.35" fill="#3dbfcb" fill-opacity="0.85"/>
<circle cx="469.81" cy="63.96" r="1.35" fill="#3dbfcb" fill-opacity="0.85"/>
<circle cx="476.97" cy="60.94" r="1.35" fill="#3dbfcb" fill-opacity="0.85"/>
<circle cx="458.12" cy="68.06" r="1.35" fill="#3dbfcb" fill-opacity="0.85"/>
<circle cx="445.34" cy="76.68" r="1.35" fill="#3dbfcb" fill-opacity="0.85"/>
<circle cx="477.37" cy="65.34" r="1.35" fill="#3dbfcb" fill-opacity="0.85"/>
<circle cx="455.68" cy="72.39" r="1.35" fill="#3dbfcb" fill-opacity="0.85"/>
<circle cx="466.10" cy="61.29" r="1.35" fill="#3dbfcb" fill-opacity="0.85"/>
<circle cx="450.95" cy="72.05" r="1.35" fill="#3dbfcb" fill-opacity="0.85"/>
<circle cx="477.00" cy="89.00" r="1.35" fill="#3dbfcb" fill-opacity="0.85"/>
<circle cx="499.80" cy="62.00" r="1.35" fill="#3dbfcb" fill-opacity="0.85"/>
<circle cx="505.00" cy="65.60" r="1.35" fill="#3dbfcb" fill-opacity="0.85"/>
<circle cx="506.80" cy="75.00" r="1.35" fill="#3dbfcb" fill-opacity="0.85"/>
<circle cx="470.00" cy="48.00" r="1.35" fill="#3dbfcb" fill-opacity="0.85"/>
<circle cx="452.00" cy="73.00" r="1.35" fill="#3dbfcb" fill-opacity="0.85"/>
<circle cx="490.00" cy="48.60" r="1.35" fill="#3fa556" fill-opacity="0.85"/>
<circle cx="496.30" cy="53.00" r="1.35" fill="#3fa556" fill-opacity="0.85"/>
<circle cx="487.60" cy="67.00" r="1.35" fill="#3fa556" fill-opacity="0.85"/>
<circle cx="519.00" cy="72.00" r="1.35" fill="#3fa556" fill-opacity="0.85"/>
<circle cx="520.00" cy="57.00" r="1.35" fill="#3fa556" fill-opacity="0.85"/>
<circle cx="523.00" cy="58.30" r="1.35" fill="#3fa556" fill-opacity="0.85"/>
<circle cx="517.00" cy="56.80" r="1.35" fill="#3fa556" fill-opacity="0.85"/>
<circle cx="506.50" cy="66.50" r="1.35" fill="#3fa556" fill-opacity="0.85"/>
<circle cx="503.00" cy="68.00" r="1.35" fill="#3fa556" fill-opacity="0.85"/>
<circle cx="467.00" cy="62.00" r="1.35" fill="#3fa556" fill-opacity="0.85"/>
<circle cx="470.00" cy="59.00" r="1.35" fill="#3fa556" fill-opacity="0.85"/>
<circle cx="504.60" cy="85.57" r="1.35" fill="#3fa556" fill-opacity="0.85"/>
<circle cx="503.98" cy="80.15" r="1.35" fill="#3fa556" fill-opacity="0.85"/>
<circle cx="497.49" cy="82.70" r="1.35" fill="#3fa556" fill-opacity="0.85"/>
<circle cx="499.63" cy="87.18" r="1.35" fill="#3fa556" fill-opacity="0.85"/>
<circle cx="501.68" cy="87.20" r="1.35" fill="#3fa556" fill-opacity="0.85"/>
<circle cx="500.30" cy="82.70" r="1.35" fill="#3fa556" fill-opacity="0.85"/>
<circle cx="501.48" cy="87.54" r="1.35" fill="#3fa556" fill-opacity="0.85"/>
<circle cx="505.44" cy="78.70" r="1.35" fill="#3fa556" fill-opacity="0.85"/>
<circle cx="498.75" cy="82.93" r="1.35" fill="#3fa556" fill-opacity="0.85"/>
<circle cx="500.68" cy="89.58" r="1.35" fill="#3fa556" fill-opacity="0.85"/>
<circle cx="497.95" cy="86.63" r="1.35" fill="#3fa556" fill-opacity="0.85"/>
<circle cx="497.18" cy="87.12" r="1.35" fill="#3fa556" fill-opacity="0.85"/>
<circle cx="529.30" cy="54.09" r="1.35" fill="#ea4f3c" fill-opacity="0.85"/>
<circle cx="519.99" cy="55.35" r="1.35" fill="#ea4f3c" fill-opacity="0.85"/>
<circle cx="524.35" cy="55.45" r="1.35" fill="#ea4f3c" fill-opacity="0.85"/>
<circle cx="521.92" cy="56.11" r="1.35" fill="#ea4f3c" fill-opacity="0.85"/>
<circle cx="519.66" cy="58.30" r="1.35" fill="#ea4f3c" fill-opacity="0.85"/>
<circle cx="520.12" cy="55.97" r="1.35" fill="#ea4f3c" fill-opacity="0.85"/>
<circle cx="521.72" cy="55.99" r="1.35" fill="#ea4f3c" fill-opacity="0.85"/>
<circle cx="521.89" cy="57.30" r="1.35" fill="#ea4f3c" fill-opacity="0.85"/>
<circle cx="521.34" cy="56.52" r="1.35" fill="#ea4f3c" fill-opacity="0.85"/>
<circle cx="524.36" cy="56.36" r="1.35" fill="#ea4f3c" fill-opacity="0.85"/>
<circle cx="522.40" cy="59.96" r="1.35" fill="#ea4f3c" fill-opacity="0.85"/>
<circle cx="517.41" cy="55.09" r="1.35" fill="#ea4f3c" fill-opacity="0.85"/>
<circle cx="519.56" cy="52.02" r="1.35" fill="#ea4f3c" fill-opacity="0.85"/>
<circle cx="503.10" cy="83.04" r="1.35" fill="#ea4f3c" fill-opacity="0.85"/>
<circle cx="494.28" cy="94.74" r="1.35" fill="#ea4f3c" fill-opacity="0.85"/>
<circle cx="504.08" cy="90.16" r="1.35" fill="#ea4f3c" fill-opacity="0.85"/>
<circle cx="499.20" cy="84.66" r="1.35" fill="#ea4f3c" fill-opacity="0.85"/>
<circle cx="504.63" cy="78.97" r="1.35" fill="#ea4f3c" fill-opacity="0.85"/>
<circle cx="495.13" cy="81.30" r="1.35" fill="#ea4f3c" fill-opacity="0.85"/>
<circle cx="500.90" cy="83.68" r="1.35" fill="#ea4f3c" fill-opacity="0.85"/>
<circle cx="494.96" cy="84.87" r="1.35" fill="#ea4f3c" fill-opacity="0.85"/>
<circle cx="503.95" cy="79.90" r="1.35" fill="#ea4f3c" fill-opacity="0.85"/>
<circle cx="502.63" cy="81.27" r="1.35" fill="#ea4f3c" fill-opacity="0.85"/>
<circle cx="505.09" cy="82.10" r="1.35" fill="#ea4f3c" fill-opacity="0.85"/>
<circle cx="498.92" cy="83.06" r="1.35" fill="#ea4f3c" fill-opacity="0.85"/>
<circle cx="509.50" cy="51.60" r="1.35" fill="#ea4f3c" fill-opacity="0.85"/>
<circle cx="504.70" cy="62.00" r="1.35" fill="#ea4f3c" fill-opacity="0.85"/>
<circle cx="508.60" cy="70.90" r="1.35" fill="#ea4f3c" fill-opacity="0.85"/>
<circle cx="512.00" cy="70.20" r="1.35" fill="#ea4f3c" fill-opacity="0.85"/>
<circle cx="484.00" cy="65.60" r="1.35" fill="#ea4f3c" fill-opacity="0.85"/>
<circle cx="457.00" cy="75.00" r="1.35" fill="#ea4f3c" fill-opacity="0.85"/>
<circle cx="496.30" cy="59.50" r="1.35" fill="#ea4f3c" fill-opacity="0.85"/>
<circle cx="503.50" cy="74.00" r="1.35" fill="#ea4f3c" fill-opacity="0.85"/>
<ellipse cx="511.70" cy="67.00" rx="44.00" ry="17.20" transform="rotate(-50 511.70 67.00)" fill="none" stroke="#e3242b" stroke-width="1.2"/>
<ellipse cx="499.50" cy="70.60" rx="47.00" ry="31.50" transform="rotate(-20 499.50 70.60)" fill="none" stroke="#16a049" stroke-width="1.2"/>
<ellipse cx="466.30" cy="58.10" rx="24.10" ry="11.40" transform="rotate(-30 466.30 58.10)" fill="none" stroke="#7a3c9f" stroke-width="1.2"/>
<ellipse cx="465.10" cy="67.10" rx="23.60" ry="15.00" transform="rotate(-20 465.10 67.10)" fill="none" stroke="#22b2bf" stroke-width="1.2"/>
<rect x="438.20" y="29.40" width="111.60" height="77.70" fill="none" stroke="#555555" stroke-width="1.1"/>
<line x1="441.70" y1="107.10" x2="441.70" y2="108.90" stroke="#555555" stroke-width="0.6"/>
<text x="441.70" y="113.32" font-size="5.2px" stroke="#231f20" stroke-width="0.16" text-anchor="middle">−0.4</text>
<line x1="461.90" y1="107.10" x2="461.90" y2="108.90" stroke="#555555" stroke-width="0.6"/>
<text x="461.90" y="113.32" font-size="5.2px" stroke="#231f20" stroke-width="0.16" text-anchor="middle">−0.2</text>
<line x1="482.10" y1="107.10" x2="482.10" y2="108.90" stroke="#555555" stroke-width="0.6"/>
<text x="482.10" y="113.32" font-size="5.2px" stroke="#231f20" stroke-width="0.16" text-anchor="middle">0.0</text>
<line x1="502.30" y1="107.10" x2="502.30" y2="108.90" stroke="#555555" stroke-width="0.6"/>
<text x="502.30" y="113.32" font-size="5.2px" stroke="#231f20" stroke-width="0.16" text-anchor="middle">0.2</text>
<line x1="522.50" y1="107.10" x2="522.50" y2="108.90" stroke="#555555" stroke-width="0.6"/>
<text x="522.50" y="113.32" font-size="5.2px" stroke="#231f20" stroke-width="0.16" text-anchor="middle">0.4</text>
<line x1="542.70" y1="107.10" x2="542.70" y2="108.90" stroke="#555555" stroke-width="0.6"/>
<text x="542.70" y="113.32" font-size="5.2px" stroke="#231f20" stroke-width="0.16" text-anchor="middle">0.6</text>
<line x1="436.40" y1="29.70" x2="438.20" y2="29.70" stroke="#555555" stroke-width="0.6"/>
<text x="435.80" y="31.57" font-size="5.2px" stroke="#231f20" stroke-width="0.16" text-anchor="end">0.50</text>
<line x1="436.40" y1="47.50" x2="438.20" y2="47.50" stroke="#555555" stroke-width="0.6"/>
<text x="435.80" y="49.37" font-size="5.2px" stroke="#231f20" stroke-width="0.16" text-anchor="end">0.25</text>
<line x1="436.40" y1="65.30" x2="438.20" y2="65.30" stroke="#555555" stroke-width="0.6"/>
<text x="435.80" y="67.17" font-size="5.2px" stroke="#231f20" stroke-width="0.16" text-anchor="end">0.00</text>
<line x1="436.40" y1="83.10" x2="438.20" y2="83.10" stroke="#555555" stroke-width="0.6"/>
<text x="435.80" y="84.97" font-size="5.2px" stroke="#231f20" stroke-width="0.16" text-anchor="end">−0.25</text>
<line x1="436.40" y1="100.90" x2="438.20" y2="100.90" stroke="#555555" stroke-width="0.6"/>
<text x="435.80" y="102.77" font-size="5.2px" stroke="#231f20" stroke-width="0.16" text-anchor="end">−0.50</text>
<text x="492.50" y="121.00" font-size="7.0px" stroke="#2b2b2b" stroke-width="0.16" text-anchor="middle" fill="#2b2b2b">Axis1 (21.85%)</text>
<text x="0" y="0" transform="translate(421.30,68.00) rotate(-90)" font-size="7.0px" stroke="#2b2b2b" stroke-width="0.16" text-anchor="middle" fill="#2b2b2b">Axis2 (10.27%)</text>
<text x="0" y="0" transform="translate(625.50,23.60) scale(1,1.1)" font-size="8.9px" stroke="#231f20" stroke-width="0.16" text-anchor="middle">Weighted</text>
<circle cx="606.68" cy="45.00" r="1.35" fill="#9150b4" fill-opacity="0.85"/>
<circle cx="604.03" cy="46.23" r="1.35" fill="#9150b4" fill-opacity="0.85"/>
<circle cx="607.10" cy="39.23" r="1.35" fill="#9150b4" fill-opacity="0.85"/>
<circle cx="601.88" cy="39.66" r="1.35" fill="#9150b4" fill-opacity="0.85"/>
<circle cx="603.43" cy="39.46" r="1.35" fill="#9150b4" fill-opacity="0.85"/>
<circle cx="610.72" cy="44.68" r="1.35" fill="#9150b4" fill-opacity="0.85"/>
<circle cx="604.96" cy="38.82" r="1.35" fill="#9150b4" fill-opacity="0.85"/>
<circle cx="600.42" cy="42.95" r="1.35" fill="#9150b4" fill-opacity="0.85"/>
<circle cx="609.78" cy="47.66" r="1.35" fill="#9150b4" fill-opacity="0.85"/>
<circle cx="604.98" cy="46.39" r="1.35" fill="#9150b4" fill-opacity="0.85"/>
<circle cx="604.50" cy="52.22" r="1.35" fill="#9150b4" fill-opacity="0.85"/>
<circle cx="606.46" cy="52.07" r="1.35" fill="#9150b4" fill-opacity="0.85"/>
<circle cx="608.69" cy="43.65" r="1.35" fill="#9150b4" fill-opacity="0.85"/>
<circle cx="602.30" cy="48.19" r="1.35" fill="#9150b4" fill-opacity="0.85"/>
<circle cx="639.47" cy="50.64" r="1.35" fill="#9150b4" fill-opacity="0.85"/>
<circle cx="636.48" cy="54.23" r="1.35" fill="#9150b4" fill-opacity="0.85"/>
<circle cx="648.99" cy="61.59" r="1.35" fill="#9150b4" fill-opacity="0.85"/>
<circle cx="644.67" cy="69.89" r="1.35" fill="#9150b4" fill-opacity="0.85"/>
<circle cx="641.53" cy="67.32" r="1.35" fill="#9150b4" fill-opacity="0.85"/>
<circle cx="647.82" cy="60.17" r="1.35" fill="#9150b4" fill-opacity="0.85"/>
<circle cx="643.59" cy="68.90" r="1.35" fill="#9150b4" fill-opacity="0.85"/>
<circle cx="640.73" cy="51.58" r="1.35" fill="#9150b4" fill-opacity="0.85"/>
<circle cx="642.55" cy="67.00" r="1.35" fill="#9150b4" fill-opacity="0.85"/>
<circle cx="636.25" cy="61.48" r="1.35" fill="#9150b4" fill-opacity="0.85"/>
<circle cx="657.46" cy="68.61" r="1.35" fill="#9150b4" fill-opacity="0.85"/>
<circle cx="651.93" cy="75.75" r="1.35" fill="#9150b4" fill-opacity="0.85"/>
<circle cx="646.38" cy="59.56" r="1.35" fill="#9150b4" fill-opacity="0.85"/>
<circle cx="630.68" cy="62.83" r="1.35" fill="#9150b4" fill-opacity="0.85"/>
<circle cx="653.57" cy="58.70" r="1.35" fill="#9150b4" fill-opacity="0.85"/>
<circle cx="644.36" cy="64.09" r="1.35" fill="#9150b4" fill-opacity="0.85"/>
<circle cx="650.18" cy="58.62" r="1.35" fill="#9150b4" fill-opacity="0.85"/>
<circle cx="641.14" cy="58.38" r="1.35" fill="#9150b4" fill-opacity="0.85"/>
<circle cx="633.80" cy="46.30" r="1.35" fill="#9150b4" fill-opacity="0.85"/>
<circle cx="633.50" cy="48.50" r="1.35" fill="#9150b4" fill-opacity="0.85"/>
<circle cx="650.00" cy="63.00" r="1.35" fill="#9150b4" fill-opacity="0.85"/>
<circle cx="654.00" cy="65.50" r="1.35" fill="#9150b4" fill-opacity="0.85"/>
<circle cx="651.00" cy="65.00" r="1.35" fill="#9150b4" fill-opacity="0.85"/>
<circle cx="594.23" cy="64.14" r="1.35" fill="#ea4f3c" fill-opacity="0.85"/>
<circle cx="608.98" cy="72.86" r="1.35" fill="#ea4f3c" fill-opacity="0.85"/>
<circle cx="595.66" cy="65.43" r="1.35" fill="#ea4f3c" fill-opacity="0.85"/>
<circle cx="603.16" cy="62.53" r="1.35" fill="#ea4f3c" fill-opacity="0.85"/>
<circle cx="607.69" cy="62.54" r="1.35" fill="#ea4f3c" fill-opacity="0.85"/>
<circle cx="604.34" cy="66.07" r="1.35" fill="#ea4f3c" fill-opacity="0.85"/>
<circle cx="599.63" cy="66.29" r="1.35" fill="#ea4f3c" fill-opacity="0.85"/>
<circle cx="603.29" cy="68.61" r="1.35" fill="#ea4f3c" fill-opacity="0.85"/>
<circle cx="602.06" cy="69.62" r="1.35" fill="#ea4f3c" fill-opacity="0.85"/>
<circle cx="604.13" cy="65.75" r="1.35" fill="#ea4f3c" fill-opacity="0.85"/>
<circle cx="604.04" cy="56.44" r="1.35" fill="#ea4f3c" fill-opacity="0.85"/>
<circle cx="610.66" cy="73.82" r="1.35" fill="#ea4f3c" fill-opacity="0.85"/>
<circle cx="602.02" cy="55.52" r="1.35" fill="#ea4f3c" fill-opacity="0.85"/>
<circle cx="603.04" cy="70.67" r="1.35" fill="#ea4f3c" fill-opacity="0.85"/>
<circle cx="592.53" cy="77.42" r="1.35" fill="#ea4f3c" fill-opacity="0.85"/>
<circle cx="600.79" cy="63.49" r="1.35" fill="#ea4f3c" fill-opacity="0.85"/>
<circle cx="601.11" cy="67.75" r="1.35" fill="#ea4f3c" fill-opacity="0.85"/>
<circle cx="605.77" cy="66.69" r="1.35" fill="#ea4f3c" fill-opacity="0.85"/>
<circle cx="648.30" cy="64.30" r="1.35" fill="#ea4f3c" fill-opacity="0.85"/>
<circle cx="651.00" cy="66.00" r="1.35" fill="#ea4f3c" fill-opacity="0.85"/>
<circle cx="608.29" cy="52.93" r="1.35" fill="#3fa556" fill-opacity="0.85"/>
<circle cx="609.83" cy="57.02" r="1.35" fill="#3fa556" fill-opacity="0.85"/>
<circle cx="605.35" cy="71.90" r="1.35" fill="#3fa556" fill-opacity="0.85"/>
<circle cx="607.96" cy="68.99" r="1.35" fill="#3fa556" fill-opacity="0.85"/>
<circle cx="616.99" cy="54.35" r="1.35" fill="#3fa556" fill-opacity="0.85"/>
<circle cx="608.95" cy="46.94" r="1.35" fill="#3fa556" fill-opacity="0.85"/>
<circle cx="617.19" cy="47.70" r="1.35" fill="#3fa556" fill-opacity="0.85"/>
<circle cx="597.65" cy="55.15" r="1.35" fill="#3fa556" fill-opacity="0.85"/>
<circle cx="614.50" cy="64.97" r="1.35" fill="#3fa556" fill-opacity="0.85"/>
<circle cx="597.24" cy="65.08" r="1.35" fill="#3fa556" fill-opacity="0.85"/>
<circle cx="603.22" cy="53.53" r="1.35" fill="#3fa556" fill-opacity="0.85"/>
<circle cx="617.99" cy="66.93" r="1.35" fill="#3fa556" fill-opacity="0.85"/>
<circle cx="610.33" cy="68.11" r="1.35" fill="#3fa556" fill-opacity="0.85"/>
<circle cx="603.43" cy="66.99" r="1.35" fill="#3fa556" fill-opacity="0.85"/>
<circle cx="604.96" cy="32.71" r="1.35" fill="#3fa556" fill-opacity="0.85"/>
<circle cx="605.49" cy="74.58" r="1.35" fill="#3fa556" fill-opacity="0.85"/>
<circle cx="604.80" cy="86.03" r="1.35" fill="#3dbfcb" fill-opacity="0.85"/>
<circle cx="604.57" cy="83.93" r="1.35" fill="#3dbfcb" fill-opacity="0.85"/>
<circle cx="607.08" cy="84.45" r="1.35" fill="#3dbfcb" fill-opacity="0.85"/>
<circle cx="608.92" cy="81.37" r="1.35" fill="#3dbfcb" fill-opacity="0.85"/>
<circle cx="607.22" cy="88.34" r="1.35" fill="#3dbfcb" fill-opacity="0.85"/>
<circle cx="609.28" cy="82.94" r="1.35" fill="#3dbfcb" fill-opacity="0.85"/>
<circle cx="607.25" cy="84.26" r="1.35" fill="#3dbfcb" fill-opacity="0.85"/>
<circle cx="608.31" cy="84.23" r="1.35" fill="#3dbfcb" fill-opacity="0.85"/>
<circle cx="607.86" cy="84.00" r="1.35" fill="#3dbfcb" fill-opacity="0.85"/>
<circle cx="605.80" cy="86.24" r="1.35" fill="#3dbfcb" fill-opacity="0.85"/>
<circle cx="621.00" cy="79.30" r="1.35" fill="#3dbfcb" fill-opacity="0.85"/>
<circle cx="634.60" cy="80.50" r="1.35" fill="#3dbfcb" fill-opacity="0.85"/>
<circle cx="641.40" cy="78.00" r="1.35" fill="#3dbfcb" fill-opacity="0.85"/>
<circle cx="643.00" cy="66.80" r="1.35" fill="#3dbfcb" fill-opacity="0.85"/>
<circle cx="646.60" cy="59.20" r="1.35" fill="#3dbfcb" fill-opacity="0.85"/>
<circle cx="651.00" cy="60.00" r="1.35" fill="#3dbfcb" fill-opacity="0.85"/>
<circle cx="656.00" cy="69.40" r="1.35" fill="#3dbfcb" fill-opacity="0.85"/>
<circle cx="633.80" cy="46.30" r="1.35" fill="#3dbfcb" fill-opacity="0.85"/>
<circle cx="612.00" cy="68.00" r="1.35" fill="#3dbfcb" fill-opacity="0.85"/>
<circle cx="615.00" cy="74.00" r="1.35" fill="#3dbfcb" fill-opacity="0.85"/>
<ellipse cx="627.30" cy="55.10" rx="55.70" ry="12.10" transform="rotate(21 627.30 55.10)" fill="none" stroke="#7a3c9f" stroke-width="1.2"/>
<ellipse cx="614.75" cy="75.05" rx="41.70" ry="26.70" transform="rotate(-25 614.75 75.05)" fill="none" stroke="#22b2bf" stroke-width="1.2"/>
<ellipse cx="604.70" cy="63.90" rx="27.90" ry="14.40" transform="rotate(-85 604.70 63.90)" fill="none" stroke="#16a049" stroke-width="1.2"/>
<ellipse cx="603.90" cy="66.50" rx="18.00" ry="10.50" transform="rotate(-50 603.90 66.50)" fill="none" stroke="#e3242b" stroke-width="1.2"/>
<rect x="570.70" y="28.90" width="113.50" height="78.60" fill="none" stroke="#555555" stroke-width="1.1"/>
<line x1="573.70" y1="107.50" x2="573.70" y2="109.30" stroke="#555555" stroke-width="0.6"/>
<text x="573.70" y="113.72" font-size="5.2px" stroke="#231f20" stroke-width="0.16" text-anchor="middle">−0.4</text>
<line x1="595.10" y1="107.50" x2="595.10" y2="109.30" stroke="#555555" stroke-width="0.6"/>
<text x="595.10" y="113.72" font-size="5.2px" stroke="#231f20" stroke-width="0.16" text-anchor="middle">−0.2</text>
<line x1="616.50" y1="107.50" x2="616.50" y2="109.30" stroke="#555555" stroke-width="0.6"/>
<text x="616.50" y="113.72" font-size="5.2px" stroke="#231f20" stroke-width="0.16" text-anchor="middle">0.0</text>
<line x1="637.90" y1="107.50" x2="637.90" y2="109.30" stroke="#555555" stroke-width="0.6"/>
<text x="637.90" y="113.72" font-size="5.2px" stroke="#231f20" stroke-width="0.16" text-anchor="middle">0.2</text>
<line x1="659.30" y1="107.50" x2="659.30" y2="109.30" stroke="#555555" stroke-width="0.6"/>
<text x="659.30" y="113.72" font-size="5.2px" stroke="#231f20" stroke-width="0.16" text-anchor="middle">0.4</text>
<line x1="680.70" y1="107.50" x2="680.70" y2="109.30" stroke="#555555" stroke-width="0.6"/>
<text x="680.70" y="113.72" font-size="5.2px" stroke="#231f20" stroke-width="0.16" text-anchor="middle">0.6</text>
<line x1="568.90" y1="42.20" x2="570.70" y2="42.20" stroke="#555555" stroke-width="0.6"/>
<text x="568.30" y="44.07" font-size="5.2px" stroke="#231f20" stroke-width="0.16" text-anchor="end">0.2</text>
<line x1="568.90" y1="63.90" x2="570.70" y2="63.90" stroke="#555555" stroke-width="0.6"/>
<text x="568.30" y="65.77" font-size="5.2px" stroke="#231f20" stroke-width="0.16" text-anchor="end">0.0</text>
<line x1="568.90" y1="85.60" x2="570.70" y2="85.60" stroke="#555555" stroke-width="0.6"/>
<text x="568.30" y="87.47" font-size="5.2px" stroke="#231f20" stroke-width="0.16" text-anchor="end">−0.2</text>
<line x1="568.90" y1="107.30" x2="570.70" y2="107.30" stroke="#555555" stroke-width="0.6"/>
<text x="568.30" y="109.17" font-size="5.2px" stroke="#231f20" stroke-width="0.16" text-anchor="end">−0.4</text>
<text x="625.50" y="121.00" font-size="7.0px" stroke="#2b2b2b" stroke-width="0.16" text-anchor="middle" fill="#2b2b2b">Axis1 (29.27%)</text>
<text x="0" y="0" transform="translate(556.50,68.00) rotate(-90)" font-size="7.0px" stroke="#2b2b2b" stroke-width="0.16" text-anchor="middle" fill="#2b2b2b">Axis2 (14.21%)</text>
<circle cx="477.20" cy="131.40" r="3.9" fill="#ef5a45"/>
<line x1="472.70" y1="131.40" x2="481.70" y2="131.40" stroke="#ef5a45" stroke-width="0.9"/>
<text x="484.20" y="134.40" font-size="8.1px" stroke="#231f20" stroke-width="0.16">Day 0</text>
<circle cx="519.50" cy="131.40" r="3.9" fill="#5aad55"/>
<line x1="515.00" y1="131.40" x2="524.00" y2="131.40" stroke="#5aad55" stroke-width="0.9"/>
<text x="526.50" y="134.40" font-size="8.1px" stroke="#231f20" stroke-width="0.16">Day 1</text>
<circle cx="560.80" cy="131.40" r="3.9" fill="#42bfcb"/>
<line x1="556.30" y1="131.40" x2="565.30" y2="131.40" stroke="#42bfcb" stroke-width="0.9"/>
<text x="567.80" y="134.40" font-size="8.1px" stroke="#231f20" stroke-width="0.16">Day 4</text>
<circle cx="600.70" cy="131.40" r="3.9" fill="#9654b5"/>
<line x1="596.20" y1="131.40" x2="605.20" y2="131.40" stroke="#9654b5" stroke-width="0.9"/>
<text x="607.70" y="134.40" font-size="8.1px" stroke="#231f20" stroke-width="0.16">Month 1</text>
<text x="216.40" y="160.80" font-size="21.5px" stroke="#231f20" stroke-width="0.16">d</text>
<text x="231.20" y="171.60" font-size="10.2px" stroke="#231f20" stroke-width="0.16">Day 1</text>
<text x="269.30" y="171.60" font-size="10.2px" stroke="#231f20" stroke-width="0.16">Day 4</text>
<rect x="264.00" y="177.85" width="17.30" height="6.22" fill="#2f6b3b"/>
<rect x="284.40" y="178.00" width="4.40" height="5.92" fill="#1cb1ec"/>
<text x="290.00" y="183.81" font-size="8.15px" stroke="#231f20" stroke-width="0.16" font-style="italic">Staphylococcus</text>
<rect x="264.00" y="184.78" width="7.80" height="6.22" fill="#2f6b3b"/>
<rect x="284.40" y="184.93" width="4.40" height="5.92" fill="#f7941d"/>
<text x="290.00" y="190.74" font-size="8.15px" stroke="#231f20" stroke-width="0.16" font-style="italic">Rothia</text>
<rect x="264.00" y="191.70" width="5.90" height="6.22" fill="#2f6b3b"/>
<rect x="284.40" y="191.85" width="4.40" height="5.92" fill="#1cb1ec"/>
<text x="290.00" y="197.66" font-size="8.15px" stroke="#231f20" stroke-width="0.16" font-style="italic">Streptococcus</text>
<rect x="264.00" y="198.62" width="2.80" height="6.22" fill="#2f6b3b"/>
<rect x="284.40" y="198.78" width="4.40" height="5.92" fill="#be1e2d"/>
<text x="290.00" y="204.59" font-size="8.15px" stroke="#231f20" stroke-width="0.16" font-style="italic">Haemophilus</text>
<rect x="259.50" y="205.55" width="4.50" height="6.22" fill="#7a1c22"/>
<rect x="284.40" y="205.70" width="4.40" height="5.92" fill="#262262"/>
<text x="290.00" y="211.51" font-size="8.15px" stroke="#231f20" stroke-width="0.16">Order: Babeliales</text>
<rect x="259.10" y="212.47" width="4.90" height="6.22" fill="#7a1c22"/>
<rect x="284.40" y="212.62" width="4.40" height="5.92" fill="#ef4136"/>
<text x="290.00" y="218.44" font-size="8.15px" stroke="#231f20" stroke-width="0.16">Phylum: Gracilibacteria</text>
<rect x="259.00" y="219.40" width="5.00" height="6.22" fill="#7a1c22"/>
<rect x="284.40" y="219.55" width="4.40" height="5.92" fill="#be1e2d"/>
<text x="290.00" y="225.36" font-size="8.15px" stroke="#231f20" stroke-width="0.16" font-style="italic">Methylobacterium.Methylorubrum</text>
<rect x="259.00" y="226.32" width="5.00" height="6.22" fill="#7a1c22"/>
<rect x="284.40" y="226.47" width="4.40" height="5.92" fill="#be1e2d"/>
<text x="290.00" y="232.29" font-size="8.15px" stroke="#231f20" stroke-width="0.16" font-style="italic">Qipengyuania</text>
<rect x="258.90" y="233.25" width="5.10" height="6.22" fill="#7a1c22"/>
<rect x="284.40" y="233.40" width="4.40" height="5.92" fill="#1cb1ec"/>
<text x="290.00" y="239.21" font-size="8.15px" stroke="#231f20" stroke-width="0.16" font-style="italic">Erysipelatoclostridium</text>
<rect x="258.80" y="240.17" width="5.20" height="6.22" fill="#7a1c22"/>
<rect x="284.40" y="240.32" width="4.40" height="5.92" fill="#1cb1ec"/>
<text x="290.00" y="246.14" font-size="8.15px" stroke="#231f20" stroke-width="0.16" font-style="italic">Finegoldia</text>
<rect x="258.60" y="247.10" width="5.40" height="6.22" fill="#7a1c22"/>
<rect x="284.40" y="247.25" width="4.40" height="5.92" fill="#6a2c91"/>
<text x="290.00" y="253.06" font-size="8.15px" stroke="#231f20" stroke-width="0.16" font-style="italic">Chryseobacterium</text>
<rect x="258.60" y="254.03" width="5.40" height="6.22" fill="#7a1c22"/>
<rect x="284.40" y="254.18" width="4.40" height="5.92" fill="#be1e2d"/>
<text x="290.00" y="259.99" font-size="8.15px" stroke="#231f20" stroke-width="0.16" font-style="italic">Rheinheimera</text>
<rect x="258.50" y="260.95" width="5.50" height="6.22" fill="#7a1c22"/>
<rect x="284.40" y="261.10" width="4.40" height="5.92" fill="#262262"/>
<text x="290.00" y="266.91" font-size="8.15px" stroke="#231f20" stroke-width="0.16" font-style="italic">Babeliales</text>
<rect x="258.50" y="267.88" width="5.50" height="6.22" fill="#7a1c22"/>
<rect x="284.40" y="268.02" width="4.40" height="5.92" fill="#be1e2d"/>
<text x="290.00" y="273.84" font-size="8.15px" stroke="#231f20" stroke-width="0.16" font-style="italic">Halomonas</text>
<rect x="258.40" y="274.80" width="5.60" height="6.22" fill="#7a1c22"/>
<rect x="284.40" y="274.95" width="4.40" height="5.92" fill="#6a2c91"/>
<text x="290.00" y="280.76" font-size="8.15px" stroke="#231f20" stroke-width="0.16" font-style="italic">Prevotella</text>
<rect x="258.30" y="281.73" width="5.70" height="6.22" fill="#7a1c22"/>
<rect x="284.40" y="281.88" width="4.40" height="5.92" fill="#c2b59b"/>
<text x="290.00" y="287.69" font-size="8.15px" stroke="#231f20" stroke-width="0.16" font-style="italic">Pajaroellobacter</text>
<rect x="257.90" y="288.65" width="6.10" height="6.22" fill="#7a1c22"/>
<rect x="284.40" y="288.80" width="4.40" height="5.92" fill="#be1e2d"/>
<text x="290.00" y="294.61" font-size="8.15px" stroke="#231f20" stroke-width="0.16">Class: Oligoflexia</text>
<rect x="257.60" y="295.58" width="6.40" height="6.22" fill="#7a1c22"/>
<rect x="284.40" y="295.73" width="4.40" height="5.92" fill="#939598"/>
<text x="290.00" y="301.54" font-size="8.15px" stroke="#231f20" stroke-width="0.16">Class: Parcubacteria</text>
<rect x="257.30" y="302.50" width="6.70" height="6.22" fill="#7a1c22"/>
<rect x="284.40" y="302.65" width="4.40" height="5.92" fill="#006838"/>
<text x="290.00" y="308.46" font-size="8.15px" stroke="#231f20" stroke-width="0.16" font-style="italic">Fusobacterium</text>
<rect x="257.30" y="309.43" width="6.70" height="6.22" fill="#7a1c22"/>
<rect x="284.40" y="309.57" width="4.40" height="5.92" fill="#1cb1ec"/>
<text x="290.00" y="315.39" font-size="8.15px" stroke="#231f20" stroke-width="0.16" font-style="italic">Desulfurispora</text>
<rect x="257.30" y="316.35" width="6.70" height="6.22" fill="#7a1c22"/>
<rect x="284.40" y="316.50" width="4.40" height="5.92" fill="#1cb1ec"/>
<text x="290.00" y="322.31" font-size="8.15px" stroke="#231f20" stroke-width="0.16">Family: Lachnospiraceae</text>
<rect x="256.90" y="323.27" width="7.10" height="6.22" fill="#7a1c22"/>
<rect x="284.40" y="323.42" width="4.40" height="5.92" fill="#939598"/>
<text x="290.00" y="329.24" font-size="8.15px" stroke="#231f20" stroke-width="0.16">Family: Fimbriimonadaceae</text>
<rect x="256.30" y="330.20" width="7.70" height="6.22" fill="#7a1c22"/>
<rect x="284.40" y="330.35" width="4.40" height="5.92" fill="#1cb1ec"/>
<text x="290.00" y="336.16" font-size="8.15px" stroke="#231f20" stroke-width="0.16">Class: Clostridia</text>
<rect x="256.10" y="337.12" width="7.90" height="6.22" fill="#7a1c22"/>
<rect x="284.40" y="337.27" width="4.40" height="5.92" fill="#be1e2d"/>
<text x="290.00" y="343.09" font-size="8.15px" stroke="#231f20" stroke-width="0.16" font-style="italic">Acinetobacter</text>
<rect x="256.10" y="344.05" width="7.90" height="6.22" fill="#7a1c22"/>
<rect x="284.40" y="344.20" width="4.40" height="5.92" fill="#be1e2d"/>
<text x="290.00" y="350.01" font-size="8.15px" stroke="#231f20" stroke-width="0.16" font-style="italic">Escherichia.Shigella</text>
<rect x="255.80" y="350.98" width="8.20" height="6.22" fill="#7a1c22"/>
<rect x="284.40" y="351.12" width="4.40" height="5.92" fill="#939598"/>
<text x="290.00" y="356.94" font-size="8.15px" stroke="#231f20" stroke-width="0.16">Chloroplast</text>
<rect x="255.20" y="357.90" width="8.80" height="6.22" fill="#7a1c22"/>
<rect x="284.40" y="358.05" width="4.40" height="5.92" fill="#6a2c91"/>
<text x="290.00" y="363.86" font-size="8.15px" stroke="#231f20" stroke-width="0.16" font-style="italic">Flavobacterium</text>
<rect x="254.20" y="364.83" width="9.80" height="6.22" fill="#7a1c22"/>
<rect x="284.40" y="364.98" width="4.40" height="5.92" fill="#6a2c91"/>
<text x="290.00" y="370.79" font-size="8.15px" stroke="#231f20" stroke-width="0.16" font-style="italic">Sediminibacterium</text>
<rect x="253.90" y="371.75" width="10.10" height="6.22" fill="#7a1c22"/>
<rect x="284.40" y="371.90" width="4.40" height="5.92" fill="#be1e2d"/>
<text x="290.00" y="377.71" font-size="8.15px" stroke="#231f20" stroke-width="0.16">Family: Comamonadaceae</text>
<rect x="252.90" y="378.68" width="11.10" height="6.22" fill="#7a1c22"/>
<rect x="284.40" y="378.82" width="4.40" height="5.92" fill="#939598"/>
<text x="290.00" y="384.64" font-size="8.15px" stroke="#231f20" stroke-width="0.16">Mitochondria</text>
<rect x="252.40" y="385.60" width="11.60" height="6.22" fill="#7a1c22"/>
<rect x="284.40" y="385.75" width="4.40" height="5.92" fill="#be1e2d"/>
<text x="290.00" y="391.56" font-size="8.15px" stroke="#231f20" stroke-width="0.16" font-style="italic">Bradyrhizobium</text>
<rect x="251.00" y="392.52" width="13.00" height="6.22" fill="#7a1c22"/>
<rect x="284.40" y="392.67" width="4.40" height="5.92" fill="#231f20"/>
<text x="290.00" y="398.49" font-size="8.15px" stroke="#231f20" stroke-width="0.16">Domain: Bacteria</text>
<rect x="250.50" y="399.45" width="13.50" height="6.22" fill="#7a1c22"/>
<rect x="284.40" y="399.60" width="4.40" height="5.92" fill="#a39081"/>
<text x="290.00" y="405.41" font-size="8.15px" stroke="#231f20" stroke-width="0.16" font-style="italic">Haliangium</text>
<rect x="250.50" y="406.38" width="13.50" height="6.22" fill="#7a1c22"/>
<rect x="284.40" y="406.52" width="4.40" height="5.92" fill="#3c2415"/>
<text x="290.00" y="412.34" font-size="8.15px" stroke="#231f20" stroke-width="0.16" font-style="italic">Obscuribacteraceae</text>
<rect x="250.50" y="413.30" width="13.50" height="6.22" fill="#7a1c22"/>
<rect x="284.40" y="413.45" width="4.40" height="5.92" fill="#f7941d"/>
<text x="290.00" y="419.26" font-size="8.15px" stroke="#231f20" stroke-width="0.16" font-style="italic">Mycobacterium</text>
<rect x="249.20" y="420.23" width="14.80" height="6.22" fill="#7a1c22"/>
<rect x="284.40" y="420.38" width="4.40" height="5.92" fill="#1cb1ec"/>
<text x="290.00" y="426.19" font-size="8.15px" stroke="#231f20" stroke-width="0.16" font-style="italic">Lactobacillus</text>
<rect x="248.20" y="427.15" width="15.80" height="6.22" fill="#7a1c22"/>
<rect x="284.40" y="427.30" width="4.40" height="5.92" fill="#fff200"/>
<text x="290.00" y="433.11" font-size="8.15px" stroke="#231f20" stroke-width="0.16" font-style="italic">Acidibacter</text>
<rect x="248.10" y="434.07" width="15.90" height="6.22" fill="#7a1c22"/>
<rect x="284.40" y="434.22" width="4.40" height="5.92" fill="#be1e2d"/>
<text x="290.00" y="440.04" font-size="8.15px" stroke="#231f20" stroke-width="0.16" font-style="italic">Pseudomonas</text>
<rect x="246.90" y="441.00" width="17.10" height="6.22" fill="#7a1c22"/>
<rect x="284.40" y="441.15" width="4.40" height="5.92" fill="#be1e2d"/>
<text x="290.00" y="446.96" font-size="8.15px" stroke="#231f20" stroke-width="0.16">Family: Caulobacteraceae</text>
<rect x="244.10" y="447.93" width="19.90" height="6.22" fill="#7a1c22"/>
<rect x="284.40" y="448.07" width="4.40" height="5.92" fill="#be1e2d"/>
<text x="290.00" y="453.89" font-size="8.15px" stroke="#231f20" stroke-width="0.16" font-style="italic">Sphingomonas</text>
<rect x="241.50" y="177.00" width="41.70" height="277.30" fill="none" stroke="#231f20" stroke-width="0.9"/>
<line x1="243.60" y1="454.30" x2="243.60" y2="456.00" stroke="#231f20" stroke-width="0.6"/>
<text x="243.60" y="464.10" font-size="8.2px" stroke="#231f20" stroke-width="0.16" text-anchor="middle">−4</text>
<line x1="253.80" y1="454.30" x2="253.80" y2="456.00" stroke="#231f20" stroke-width="0.6"/>
<text x="253.80" y="464.10" font-size="8.2px" stroke="#231f20" stroke-width="0.16" text-anchor="middle">−2</text>
<line x1="264.00" y1="454.30" x2="264.00" y2="456.00" stroke="#231f20" stroke-width="0.6"/>
<text x="264.00" y="464.10" font-size="8.2px" stroke="#231f20" stroke-width="0.16" text-anchor="middle">0</text>
<line x1="274.20" y1="454.30" x2="274.20" y2="456.00" stroke="#231f20" stroke-width="0.6"/>
<text x="274.20" y="464.10" font-size="8.2px" stroke="#231f20" stroke-width="0.16" text-anchor="middle">2</text>
<text x="259.60" y="473.10" font-size="8.2px" stroke="#231f20" stroke-width="0.16" text-anchor="middle">Coefficient</text>
<text x="0" y="0" transform="translate(283.60,456.80) rotate(90)" font-size="7.9px" stroke="#231f20" stroke-width="0.16">Phylum</text>
<text x="391.80" y="354.20" font-size="8.2px" stroke="#231f20" stroke-width="0.16">Phylum</text>
<rect x="394.00" y="356.00" width="3.60" height="5.20" fill="#fff200"/>
<text x="0" y="0" transform="translate(398.60,360.80) scale(1,1.06)" font-size="6.5px" stroke="#231f20" stroke-width="0.16">Acidobacteriota</text>
<rect x="394.00" y="362.40" width="3.60" height="5.20" fill="#f7941d"/>
<text x="0" y="0" transform="translate(398.60,367.20) scale(1,1.06)" font-size="6.5px" stroke="#231f20" stroke-width="0.16">Actionobacteria</text>
<rect x="394.00" y="368.30" width="3.60" height="5.20" fill="#6a2c91"/>
<text x="0" y="0" transform="translate(398.60,373.10) scale(1,1.06)" font-size="6.5px" stroke="#231f20" stroke-width="0.16">Bacteroidota</text>
<rect x="394.00" y="374.10" width="3.60" height="5.20" fill="#39b54a"/>
<text x="0" y="0" transform="translate(398.60,378.90) scale(1,1.06)" font-size="6.5px" stroke="#231f20" stroke-width="0.16">Campilobacterota</text>
<rect x="394.00" y="381.40" width="3.60" height="5.20" fill="#3c2415"/>
<text x="0" y="0" transform="translate(398.60,386.20) scale(1,1.06)" font-size="6.5px" stroke="#231f20" stroke-width="0.16">Cyanobacteria</text>
<rect x="394.00" y="388.10" width="3.60" height="5.20" fill="#262262"/>
<text x="0" y="0" transform="translate(398.60,392.90) scale(1,1.06)" font-size="6.5px" stroke="#231f20" stroke-width="0.16">Dependentiae</text>
<rect x="394.00" y="394.90" width="3.60" height="5.20" fill="#1cb1ec"/>
<text x="0" y="0" transform="translate(398.60,399.70) scale(1,1.06)" font-size="6.5px" stroke="#231f20" stroke-width="0.16">Firmicutes</text>
<rect x="394.00" y="400.90" width="3.60" height="5.20" fill="#006838"/>
<text x="0" y="0" transform="translate(398.60,405.70) scale(1,1.06)" font-size="6.5px" stroke="#231f20" stroke-width="0.16">Fusobacteriota</text>
<rect x="394.00" y="406.70" width="3.60" height="5.20" fill="#ef4136"/>
<text x="0" y="0" transform="translate(398.60,411.50) scale(1,1.06)" font-size="6.5px" stroke="#231f20" stroke-width="0.16">Gracilibacteria</text>
<rect x="394.00" y="412.60" width="3.60" height="5.20" fill="#a39081"/>
<text x="0" y="0" transform="translate(398.60,417.40) scale(1,1.06)" font-size="6.5px" stroke="#231f20" stroke-width="0.16">Myxococcota</text>
<rect x="394.00" y="418.40" width="3.60" height="5.20" fill="#be1e2d"/>
<text x="0" y="0" transform="translate(398.60,423.20) scale(1,1.06)" font-size="6.5px" stroke="#231f20" stroke-width="0.16">Proteobacteria</text>
<rect x="394.00" y="424.00" width="3.60" height="5.20" fill="#231f20"/>
<text x="0" y="0" transform="translate(398.60,428.80) scale(1,1.06)" font-size="6.5px" stroke="#231f20" stroke-width="0.16">Unknown</text>
<rect x="394.00" y="430.10" width="3.60" height="5.20" fill="#939598"/>
<text x="0" y="0" transform="translate(398.60,434.90) scale(1,1.06)" font-size="6.5px" stroke="#231f20" stroke-width="0.16">Other</text>
<text x="462.00" y="162.00" font-size="21.5px" stroke="#231f20" stroke-width="0.16">e</text>
<text x="478.40" y="176.00" font-size="10.4px" stroke="#231f20" stroke-width="0.16">Day 4</text>
<text x="511.40" y="176.00" font-size="10.4px" stroke="#231f20" stroke-width="0.16">Month 1</text>
<rect x="503.60" y="181.60" width="15.30" height="7.34" fill="#2b3270"/>
<rect x="524.20" y="181.70" width="4.30" height="7.14" fill="#1cb1ec"/>
<text x="530.40" y="188.27" font-size="8.85px" stroke="#231f20" stroke-width="0.16" font-style="italic">Finegoldia</text>
<rect x="503.60" y="189.75" width="9.40" height="7.34" fill="#2b3270"/>
<rect x="524.20" y="189.84" width="4.30" height="7.14" fill="#1cb1ec"/>
<text x="530.40" y="196.42" font-size="8.85px" stroke="#231f20" stroke-width="0.16" font-style="italic">Anaerococcus</text>
<rect x="503.60" y="197.89" width="8.20" height="7.34" fill="#2b3270"/>
<rect x="524.20" y="197.99" width="4.30" height="7.14" fill="#1cb1ec"/>
<text x="530.40" y="204.56" font-size="8.85px" stroke="#231f20" stroke-width="0.16" font-style="italic">Peptoniphilus</text>
<rect x="503.60" y="206.03" width="7.10" height="7.34" fill="#2b3270"/>
<rect x="524.20" y="206.13" width="4.30" height="7.14" fill="#be1e2d"/>
<text x="530.40" y="212.71" font-size="8.85px" stroke="#231f20" stroke-width="0.16" font-style="italic">Enterobacter</text>
<rect x="503.60" y="214.18" width="5.40" height="7.34" fill="#2b3270"/>
<rect x="524.20" y="214.28" width="4.30" height="7.14" fill="#f7941d"/>
<text x="530.40" y="220.85" font-size="8.85px" stroke="#231f20" stroke-width="0.16" font-style="italic">Bifidobacterium</text>
<rect x="503.60" y="222.32" width="5.40" height="7.34" fill="#2b3270"/>
<rect x="524.20" y="222.42" width="4.30" height="7.14" fill="#1cb1ec"/>
<text x="530.40" y="229.00" font-size="8.85px" stroke="#231f20" stroke-width="0.16" font-style="italic">Enterococcus</text>
<rect x="503.60" y="230.47" width="4.90" height="7.34" fill="#2b3270"/>
<rect x="524.20" y="230.57" width="4.30" height="7.14" fill="#f7941d"/>
<text x="530.40" y="237.14" font-size="8.85px" stroke="#231f20" stroke-width="0.16" font-style="italic">Actinomyces</text>
<rect x="503.60" y="238.61" width="4.90" height="7.34" fill="#2b3270"/>
<rect x="524.20" y="238.71" width="4.30" height="7.14" fill="#f7941d"/>
<text x="530.40" y="245.29" font-size="8.85px" stroke="#231f20" stroke-width="0.16" font-style="italic">Varibaculum</text>
<rect x="503.60" y="246.76" width="4.40" height="7.34" fill="#2b3270"/>
<rect x="524.20" y="246.86" width="4.30" height="7.14" fill="#1cb1ec"/>
<text x="530.40" y="253.43" font-size="8.85px" stroke="#231f20" stroke-width="0.16" font-style="italic">Veillonella</text>
<rect x="503.60" y="254.91" width="4.20" height="7.34" fill="#2b3270"/>
<rect x="524.20" y="255.00" width="4.30" height="7.14" fill="#6a2c91"/>
<text x="530.40" y="261.58" font-size="8.85px" stroke="#231f20" stroke-width="0.16" font-style="italic">Prevotella</text>
<rect x="503.60" y="263.05" width="4.00" height="7.34" fill="#2b3270"/>
<rect x="524.20" y="263.15" width="4.30" height="7.14" fill="#f7941d"/>
<text x="530.40" y="269.72" font-size="8.85px" stroke="#231f20" stroke-width="0.16" font-style="italic">Cutibacterium</text>
<rect x="503.60" y="271.19" width="3.80" height="7.34" fill="#2b3270"/>
<rect x="524.20" y="271.29" width="4.30" height="7.14" fill="#be1e2d"/>
<text x="530.40" y="277.87" font-size="8.85px" stroke="#231f20" stroke-width="0.16" font-style="italic">Escherichia.Shigella</text>
<rect x="503.60" y="279.34" width="3.30" height="7.34" fill="#2b3270"/>
<rect x="524.20" y="279.44" width="4.30" height="7.14" fill="#1cb1ec"/>
<text x="530.40" y="286.01" font-size="8.85px" stroke="#231f20" stroke-width="0.16" font-style="italic">Streptococcus</text>
<rect x="503.60" y="287.48" width="2.80" height="7.34" fill="#2b3270"/>
<rect x="524.20" y="287.58" width="4.30" height="7.14" fill="#f7941d"/>
<text x="530.40" y="294.16" font-size="8.85px" stroke="#231f20" stroke-width="0.16" font-style="italic">Lawsonella</text>
<rect x="503.60" y="295.63" width="2.60" height="7.34" fill="#2b3270"/>
<rect x="524.20" y="295.73" width="4.30" height="7.14" fill="#1cb1ec"/>
<text x="530.40" y="302.30" font-size="8.85px" stroke="#231f20" stroke-width="0.16" font-style="italic">Clostridium_sensu_stricto_1</text>
<rect x="503.60" y="303.77" width="1.90" height="7.34" fill="#2b3270"/>
<rect x="524.20" y="303.88" width="4.30" height="7.14" fill="#1cb1ec"/>
<text x="530.40" y="310.45" font-size="8.85px" stroke="#231f20" stroke-width="0.16" font-style="italic">Dialister</text>
<rect x="503.60" y="311.92" width="1.00" height="7.34" fill="#2b3270"/>
<rect x="524.20" y="312.02" width="4.30" height="7.14" fill="#f7941d"/>
<text x="530.40" y="318.59" font-size="8.85px" stroke="#231f20" stroke-width="0.16" font-style="italic">Eggerthella</text>
<rect x="501.70" y="320.06" width="1.90" height="7.34" fill="#2f6b3b"/>
<rect x="524.20" y="320.16" width="4.30" height="7.14" fill="#1cb1ec"/>
<text x="530.40" y="326.74" font-size="8.85px" stroke="#231f20" stroke-width="0.16" font-style="italic">Gemella</text>
<rect x="500.80" y="328.21" width="2.80" height="7.34" fill="#2f6b3b"/>
<rect x="524.20" y="328.31" width="4.30" height="7.14" fill="#f7941d"/>
<text x="530.40" y="334.88" font-size="8.85px" stroke="#231f20" stroke-width="0.16" font-style="italic">Rothia</text>
<rect x="500.80" y="336.35" width="2.80" height="7.34" fill="#2f6b3b"/>
<rect x="524.20" y="336.45" width="4.30" height="7.14" fill="#1cb1ec"/>
<text x="530.40" y="343.03" font-size="8.85px" stroke="#231f20" stroke-width="0.16" font-style="italic">Bacillus</text>
<rect x="489.00" y="344.50" width="14.60" height="7.34" fill="#2f6b3b"/>
<rect x="524.20" y="344.60" width="4.30" height="7.14" fill="#1cb1ec"/>
<text x="530.40" y="351.17" font-size="8.85px" stroke="#231f20" stroke-width="0.16" font-style="italic">Staphylococcus</text>
<rect x="488.70" y="180.80" width="31.40" height="170.60" fill="none" stroke="#231f20" stroke-width="0.9"/>
<line x1="489.56" y1="351.40" x2="489.56" y2="353.00" stroke="#231f20" stroke-width="0.6"/>
<text x="488.80" y="360.40" font-size="6.9px" stroke="#231f20" stroke-width="0.16" text-anchor="middle">-6</text>
<line x1="496.58" y1="351.40" x2="496.58" y2="353.00" stroke="#231f20" stroke-width="0.6"/>
<text x="497.60" y="360.40" font-size="6.9px" stroke="#231f20" stroke-width="0.16" text-anchor="middle">-3</text>
<line x1="503.60" y1="351.40" x2="503.60" y2="353.00" stroke="#231f20" stroke-width="0.6"/>
<text x="504.80" y="360.40" font-size="6.9px" stroke="#231f20" stroke-width="0.16" text-anchor="middle">0</text>
<line x1="510.62" y1="351.40" x2="510.62" y2="353.00" stroke="#231f20" stroke-width="0.6"/>
<text x="511.00" y="360.40" font-size="6.9px" stroke="#231f20" stroke-width="0.16" text-anchor="middle">3</text>
<line x1="517.64" y1="351.40" x2="517.64" y2="353.00" stroke="#231f20" stroke-width="0.6"/>
<text x="518.20" y="360.40" font-size="6.9px" stroke="#231f20" stroke-width="0.16" text-anchor="middle">6</text>
<text x="504.60" y="368.00" font-size="7.1px" stroke="#4d4d4d" stroke-width="0.16" text-anchor="middle" fill="#4d4d4d">Coefficient</text>
<text x="0" y="0" transform="translate(523.6,355.0) rotate(90) scale(1.14,1)" font-size="7.4px" stroke="#231f20" stroke-width="0.16">Phylum</text>
<text x="596.80" y="355.30" font-size="8.2px" stroke="#231f20" stroke-width="0.16">Phylum</text>
<rect x="600.00" y="358.10" width="3.80" height="5.20" fill="#f7941d"/>
<text x="0" y="0" transform="translate(604.70,362.90) scale(1,1.06)" font-size="6.5px" stroke="#231f20" stroke-width="0.16">Actionobacteria</text>
<rect x="600.00" y="363.90" width="3.80" height="5.20" fill="#6a2c91"/>
<text x="0" y="0" transform="translate(604.70,368.70) scale(1,1.06)" font-size="6.5px" stroke="#231f20" stroke-width="0.16">Bacteroidota</text>
<rect x="600.00" y="370.40" width="3.80" height="5.20" fill="#1cb1ec"/>
<text x="0" y="0" transform="translate(604.70,375.20) scale(1,1.06)" font-size="6.5px" stroke="#231f20" stroke-width="0.16">Firmicutes</text>
<rect x="600.00" y="376.30" width="3.80" height="5.20" fill="#be1e2d"/>
<text x="0" y="0" transform="translate(604.70,381.10) scale(1,1.06)" font-size="6.5px" stroke="#231f20" stroke-width="0.16">Proteobacteria</text>
<text x="1.90" y="493.80" font-size="21.5px" stroke="#231f20" stroke-width="0.16">f</text>
<text x="119.30" y="517.60" font-size="12.0px" stroke="#231f20" stroke-width="0.16" text-anchor="middle">Day 0</text>
<text x="318.60" y="517.60" font-size="12.0px" stroke="#231f20" stroke-width="0.16" text-anchor="middle">Day 1</text>
<text x="122.60" y="653.00" font-size="12.0px" stroke="#231f20" stroke-width="0.16" text-anchor="middle">Day 4</text>
<text x="320.80" y="652.80" font-size="12.0px" stroke="#231f20" stroke-width="0.16" text-anchor="middle">Month 1</text>
<line x1="17.80" y1="522.00" x2="206.60" y2="522.00" stroke="#8c8776" stroke-width="1.5"/>
<line x1="225.50" y1="522.00" x2="415.40" y2="522.00" stroke="#8c8776" stroke-width="1.5"/>
<line x1="18.00" y1="656.00" x2="207.10" y2="656.00" stroke="#8c8776" stroke-width="1.5"/>
<line x1="228.10" y1="656.00" x2="416.60" y2="656.00" stroke="#8c8776" stroke-width="1.5"/>
<text x="0" y="0" transform="translate(62.30,533.80) scale(1,1.07)" font-size="9.6px" stroke="#231f20" stroke-width="0.16" text-anchor="middle">Unweighted</text>
<text x="0" y="0" transform="translate(165.30,533.80) scale(1,1.07)" font-size="9.6px" stroke="#231f20" stroke-width="0.16" text-anchor="middle">Weighted</text>
<text x="0" y="0" transform="translate(271.70,533.60) scale(1,1.07)" font-size="9.6px" stroke="#231f20" stroke-width="0.16" text-anchor="middle">Unweighted</text>
<text x="0" y="0" transform="translate(372.40,533.60) scale(1,1.07)" font-size="9.6px" stroke="#231f20" stroke-width="0.16" text-anchor="middle">Weighted</text>
<text x="0" y="0" transform="translate(59.20,668.00) scale(1,1.07)" font-size="9.6px" stroke="#231f20" stroke-width="0.16" text-anchor="middle">Unweighted</text>
<text x="0" y="0" transform="translate(167.00,667.40) scale(1,1.07)" font-size="9.6px" stroke="#231f20" stroke-width="0.16" text-anchor="middle">Weighted</text>
<text x="0" y="0" transform="translate(273.80,667.00) scale(1,1.07)" font-size="9.6px" stroke="#231f20" stroke-width="0.16" text-anchor="middle">Unweighted</text>
<text x="0" y="0" transform="translate(377.00,666.60) scale(1,1.07)" font-size="9.6px" stroke="#231f20" stroke-width="0.16" text-anchor="middle">Weighted</text>
<circle cx="46.20" cy="561.10" r="1.85" fill="#4f66c6" fill-opacity="0.9"/>
<circle cx="50.60" cy="561.70" r="1.85" fill="#4f66c6" fill-opacity="0.9"/>
<circle cx="48.50" cy="569.60" r="1.85" fill="#4f66c6" fill-opacity="0.9"/>
<circle cx="50.00" cy="579.00" r="1.85" fill="#4f66c6" fill-opacity="0.9"/>
<circle cx="49.00" cy="581.00" r="1.85" fill="#4f66c6" fill-opacity="0.9"/>
<circle cx="61.70" cy="576.80" r="1.85" fill="#4f66c6" fill-opacity="0.9"/>
<circle cx="65.10" cy="583.40" r="1.85" fill="#4f66c6" fill-opacity="0.9"/>
<circle cx="72.60" cy="581.30" r="1.85" fill="#4f66c6" fill-opacity="0.9"/>
<circle cx="72.60" cy="564.30" r="1.85" fill="#4f66c6" fill-opacity="0.9"/>
<circle cx="74.50" cy="565.80" r="1.85" fill="#4f66c6" fill-opacity="0.9"/>
<circle cx="75.10" cy="568.70" r="1.85" fill="#4f66c6" fill-opacity="0.9"/>
<circle cx="54.70" cy="606.40" r="1.85" fill="#4f66c6" fill-opacity="0.9"/>
<circle cx="60.80" cy="606.40" r="1.85" fill="#4f66c6" fill-opacity="0.9"/>
<circle cx="45.80" cy="561.10" r="1.85" fill="#f0624a" fill-opacity="0.9"/>
<circle cx="45.30" cy="564.90" r="1.85" fill="#f0624a" fill-opacity="0.9"/>
<circle cx="45.30" cy="570.60" r="1.85" fill="#f0624a" fill-opacity="0.9"/>
<circle cx="45.30" cy="572.50" r="1.85" fill="#f0624a" fill-opacity="0.9"/>
<circle cx="50.90" cy="576.60" r="1.85" fill="#f0624a" fill-opacity="0.9"/>
<circle cx="67.50" cy="587.20" r="1.85" fill="#f0624a" fill-opacity="0.9"/>
<circle cx="70.20" cy="567.70" r="1.85" fill="#f0624a" fill-opacity="0.9"/>
<circle cx="72.60" cy="566.80" r="1.85" fill="#f0624a" fill-opacity="0.9"/>
<circle cx="75.50" cy="561.10" r="1.85" fill="#f0624a" fill-opacity="0.9"/>
<circle cx="76.40" cy="568.70" r="1.85" fill="#f0624a" fill-opacity="0.9"/>
<circle cx="74.00" cy="568.40" r="1.85" fill="#f0624a" fill-opacity="0.9"/>
<ellipse cx="59.90" cy="568.20" rx="38.20" ry="16.00" transform="rotate(-1 59.90 568.20)" fill="none" stroke="#e8252b" stroke-width="1.3"/>
<ellipse cx="62.50" cy="577.00" rx="28.50" ry="32.80" transform="rotate(0 62.50 577.00)" fill="none" stroke="#2350b0" stroke-width="1.3"/>
<rect x="18.50" y="541.30" width="83.10" height="70.80" fill="none" stroke="#3a3a3a" stroke-width="0.9"/>
<line x1="36.60" y1="612.10" x2="36.60" y2="613.60" stroke="#3a3a3a" stroke-width="0.6"/>
<text x="36.60" y="617.60" font-size="4.7px" stroke="#3a3a3a" stroke-width="0.16" text-anchor="middle" fill="#3a3a3a">−0.5</text>
<line x1="60.40" y1="612.10" x2="60.40" y2="613.60" stroke="#3a3a3a" stroke-width="0.6"/>
<text x="60.40" y="617.60" font-size="4.7px" stroke="#3a3a3a" stroke-width="0.16" text-anchor="middle" fill="#3a3a3a">0.0</text>
<line x1="84.20" y1="612.10" x2="84.20" y2="613.60" stroke="#3a3a3a" stroke-width="0.6"/>
<text x="84.20" y="617.60" font-size="4.7px" stroke="#3a3a3a" stroke-width="0.16" text-anchor="middle" fill="#3a3a3a">0.5</text>
<line x1="17.00" y1="541.00" x2="18.50" y2="541.00" stroke="#3a3a3a" stroke-width="0.6"/>
<text x="16.40" y="542.69" font-size="4.7px" stroke="#3a3a3a" stroke-width="0.16" text-anchor="end" fill="#3a3a3a">0.4</text>
<line x1="17.00" y1="557.20" x2="18.50" y2="557.20" stroke="#3a3a3a" stroke-width="0.6"/>
<text x="16.40" y="558.89" font-size="4.7px" stroke="#3a3a3a" stroke-width="0.16" text-anchor="end" fill="#3a3a3a">0.2</text>
<line x1="17.00" y1="573.40" x2="18.50" y2="573.40" stroke="#3a3a3a" stroke-width="0.6"/>
<text x="16.40" y="575.09" font-size="4.7px" stroke="#3a3a3a" stroke-width="0.16" text-anchor="end" fill="#3a3a3a">0.0</text>
<line x1="17.00" y1="589.60" x2="18.50" y2="589.60" stroke="#3a3a3a" stroke-width="0.6"/>
<text x="16.40" y="591.29" font-size="4.7px" stroke="#3a3a3a" stroke-width="0.16" text-anchor="end" fill="#3a3a3a">−0.2</text>
<line x1="17.00" y1="605.80" x2="18.50" y2="605.80" stroke="#3a3a3a" stroke-width="0.6"/>
<text x="16.40" y="607.49" font-size="4.7px" stroke="#3a3a3a" stroke-width="0.16" text-anchor="end" fill="#3a3a3a">−0.4</text>
<text x="60.00" y="623.10" font-size="5.9px" stroke="#333333" stroke-width="0.16" text-anchor="middle" fill="#333333">Axis1 (22.50%)</text>
<text x="0" y="0" transform="translate(7.70,573.50) rotate(-90)" font-size="5.9px" stroke="#333333" stroke-width="0.16" text-anchor="middle" fill="#333333">Axis2 (8.26%)</text>
<text x="101.40" y="631.40" font-size="8.3px" text-anchor="end" fill="#231f20"><tspan font-style="italic">p</tspan> = n.s.</text>
<circle cx="142.90" cy="564.50" r="1.85" fill="#4f66c6" fill-opacity="0.9"/>
<circle cx="143.40" cy="566.60" r="1.85" fill="#4f66c6" fill-opacity="0.9"/>
<circle cx="144.70" cy="570.60" r="1.85" fill="#4f66c6" fill-opacity="0.9"/>
<circle cx="149.40" cy="562.50" r="1.85" fill="#4f66c6" fill-opacity="0.9"/>
<circle cx="158.70" cy="565.30" r="1.85" fill="#4f66c6" fill-opacity="0.9"/>
<circle cx="164.50" cy="559.60" r="1.85" fill="#4f66c6" fill-opacity="0.9"/>
<circle cx="167.40" cy="568.90" r="1.85" fill="#4f66c6" fill-opacity="0.9"/>
<circle cx="173.60" cy="566.60" r="1.85" fill="#4f66c6" fill-opacity="0.9"/>
<circle cx="173.20" cy="572.70" r="1.85" fill="#4f66c6" fill-opacity="0.9"/>
<circle cx="176.20" cy="572.20" r="1.85" fill="#4f66c6" fill-opacity="0.9"/>
<circle cx="180.60" cy="573.20" r="1.85" fill="#4f66c6" fill-opacity="0.9"/>
<circle cx="141.50" cy="609.50" r="1.85" fill="#4f66c6" fill-opacity="0.9"/>
<circle cx="149.00" cy="557.00" r="1.85" fill="#f0624a" fill-opacity="0.9"/>
<circle cx="150.00" cy="555.20" r="1.85" fill="#f0624a" fill-opacity="0.9"/>
<circle cx="150.80" cy="561.30" r="1.85" fill="#f0624a" fill-opacity="0.9"/>
<circle cx="156.00" cy="556.00" r="1.85" fill="#f0624a" fill-opacity="0.9"/>
<circle cx="155.20" cy="561.70" r="1.85" fill="#f0624a" fill-opacity="0.9"/>
<circle cx="159.60" cy="562.50" r="1.85" fill="#f0624a" fill-opacity="0.9"/>
<circle cx="178.80" cy="571.80" r="1.85" fill="#f0624a" fill-opacity="0.9"/>
<circle cx="179.50" cy="573.50" r="1.85" fill="#f0624a" fill-opacity="0.9"/>
<circle cx="177.00" cy="574.50" r="1.85" fill="#f0624a" fill-opacity="0.9"/>
<circle cx="136.80" cy="596.40" r="1.85" fill="#f0624a" fill-opacity="0.9"/>
<ellipse cx="165.50" cy="565.90" rx="42.30" ry="6.00" transform="rotate(29.5 165.50 565.90)" fill="none" stroke="#e8252b" stroke-width="1.3"/>
<ellipse cx="164.10" cy="567.85" rx="38.70" ry="12.70" transform="rotate(15 164.10 567.85)" fill="none" stroke="#2350b0" stroke-width="1.3"/>
<rect x="123.70" y="541.70" width="81.90" height="70.40" fill="none" stroke="#3a3a3a" stroke-width="0.9"/>
<line x1="140.10" y1="612.10" x2="140.10" y2="613.60" stroke="#3a3a3a" stroke-width="0.6"/>
<text x="140.10" y="617.60" font-size="4.7px" stroke="#3a3a3a" stroke-width="0.16" text-anchor="middle" fill="#3a3a3a">−0.2</text>
<line x1="161.30" y1="612.10" x2="161.30" y2="613.60" stroke="#3a3a3a" stroke-width="0.6"/>
<text x="161.30" y="617.60" font-size="4.7px" stroke="#3a3a3a" stroke-width="0.16" text-anchor="middle" fill="#3a3a3a">0.0</text>
<line x1="182.50" y1="612.10" x2="182.50" y2="613.60" stroke="#3a3a3a" stroke-width="0.6"/>
<text x="182.50" y="617.60" font-size="4.7px" stroke="#3a3a3a" stroke-width="0.16" text-anchor="middle" fill="#3a3a3a">0.2</text>
<line x1="203.70" y1="612.10" x2="203.70" y2="613.60" stroke="#3a3a3a" stroke-width="0.6"/>
<text x="203.70" y="617.60" font-size="4.7px" stroke="#3a3a3a" stroke-width="0.16" text-anchor="middle" fill="#3a3a3a">0.4</text>
<line x1="122.20" y1="545.60" x2="123.70" y2="545.60" stroke="#3a3a3a" stroke-width="0.6"/>
<text x="121.60" y="547.29" font-size="4.7px" stroke="#3a3a3a" stroke-width="0.16" text-anchor="end" fill="#3a3a3a">0.25</text>
<line x1="122.20" y1="568.90" x2="123.70" y2="568.90" stroke="#3a3a3a" stroke-width="0.6"/>
<text x="121.60" y="570.59" font-size="4.7px" stroke="#3a3a3a" stroke-width="0.16" text-anchor="end" fill="#3a3a3a">0.00</text>
<line x1="122.20" y1="592.20" x2="123.70" y2="592.20" stroke="#3a3a3a" stroke-width="0.6"/>
<text x="121.60" y="593.89" font-size="4.7px" stroke="#3a3a3a" stroke-width="0.16" text-anchor="end" fill="#3a3a3a">−0.25</text>
<text x="167.20" y="623.10" font-size="5.9px" stroke="#333333" stroke-width="0.16" text-anchor="middle" fill="#333333">Axis1 (33.67%)</text>
<text x="0" y="0" transform="translate(109.40,573.50) rotate(-90)" font-size="5.9px" stroke="#333333" stroke-width="0.16" text-anchor="middle" fill="#333333">Axis2 (24.52%)</text>
<text x="207.70" y="631.40" font-size="8.3px" text-anchor="end" fill="#231f20"><tspan font-style="italic">p</tspan> = n.s.</text>
<circle cx="252.00" cy="569.30" r="1.85" fill="#4f66c6" fill-opacity="0.9"/>
<circle cx="253.70" cy="571.30" r="1.85" fill="#4f66c6" fill-opacity="0.9"/>
<circle cx="256.20" cy="564.60" r="1.85" fill="#4f66c6" fill-opacity="0.9"/>
<circle cx="257.90" cy="564.30" r="1.85" fill="#4f66c6" fill-opacity="0.9"/>
<circle cx="259.00" cy="566.60" r="1.85" fill="#4f66c6" fill-opacity="0.9"/>
<circle cx="260.40" cy="573.40" r="1.85" fill="#4f66c6" fill-opacity="0.9"/>
<circle cx="263.80" cy="567.10" r="1.85" fill="#4f66c6" fill-opacity="0.9"/>
<circle cx="267.10" cy="568.00" r="1.85" fill="#4f66c6" fill-opacity="0.9"/>
<circle cx="273.00" cy="571.30" r="1.85" fill="#4f66c6" fill-opacity="0.9"/>
<circle cx="271.80" cy="584.30" r="1.85" fill="#4f66c6" fill-opacity="0.9"/>
<circle cx="281.40" cy="585.10" r="1.85" fill="#4f66c6" fill-opacity="0.9"/>
<circle cx="256.20" cy="590.30" r="1.85" fill="#4f66c6" fill-opacity="0.9"/>
<circle cx="255.40" cy="598.20" r="1.85" fill="#4f66c6" fill-opacity="0.9"/>
<circle cx="262.10" cy="597.90" r="1.85" fill="#4f66c6" fill-opacity="0.9"/>
<circle cx="260.40" cy="600.70" r="1.85" fill="#4f66c6" fill-opacity="0.9"/>
<circle cx="252.80" cy="597.00" r="1.85" fill="#f0624a" fill-opacity="0.9"/>
<circle cx="254.50" cy="597.30" r="1.85" fill="#f0624a" fill-opacity="0.9"/>
<circle cx="257.90" cy="596.00" r="1.85" fill="#f0624a" fill-opacity="0.9"/>
<circle cx="258.70" cy="597.50" r="1.85" fill="#f0624a" fill-opacity="0.9"/>
<circle cx="260.40" cy="592.70" r="1.85" fill="#f0624a" fill-opacity="0.9"/>
<circle cx="259.60" cy="599.00" r="1.85" fill="#f0624a" fill-opacity="0.9"/>
<circle cx="271.80" cy="598.20" r="1.85" fill="#f0624a" fill-opacity="0.9"/>
<circle cx="285.60" cy="583.40" r="1.85" fill="#f0624a" fill-opacity="0.9"/>
<circle cx="287.00" cy="583.40" r="1.85" fill="#f0624a" fill-opacity="0.9"/>
<circle cx="285.10" cy="587.60" r="1.85" fill="#f0624a" fill-opacity="0.9"/>
<ellipse cx="268.70" cy="592.20" rx="41.70" ry="6.30" transform="rotate(-24 268.70 592.20)" fill="none" stroke="#e8252b" stroke-width="1.3"/>
<ellipse cx="262.25" cy="577.25" rx="32.90" ry="20.10" transform="rotate(83.4 262.25 577.25)" fill="none" stroke="#2350b0" stroke-width="1.3"/>
<rect x="227.70" y="541.10" width="82.70" height="71.00" fill="none" stroke="#3a3a3a" stroke-width="0.9"/>
<line x1="246.20" y1="612.10" x2="246.20" y2="613.60" stroke="#3a3a3a" stroke-width="0.6"/>
<text x="246.20" y="617.60" font-size="4.7px" stroke="#3a3a3a" stroke-width="0.16" text-anchor="middle" fill="#3a3a3a">−0.4</text>
<line x1="265.80" y1="612.10" x2="265.80" y2="613.60" stroke="#3a3a3a" stroke-width="0.6"/>
<text x="265.80" y="617.60" font-size="4.7px" stroke="#3a3a3a" stroke-width="0.16" text-anchor="middle" fill="#3a3a3a">0.0</text>
<line x1="285.40" y1="612.10" x2="285.40" y2="613.60" stroke="#3a3a3a" stroke-width="0.6"/>
<text x="285.40" y="617.60" font-size="4.7px" stroke="#3a3a3a" stroke-width="0.16" text-anchor="middle" fill="#3a3a3a">0.4</text>
<line x1="305.00" y1="612.10" x2="305.00" y2="613.60" stroke="#3a3a3a" stroke-width="0.6"/>
<text x="305.00" y="617.60" font-size="4.7px" stroke="#3a3a3a" stroke-width="0.16" text-anchor="middle" fill="#3a3a3a">0.8</text>
<line x1="226.20" y1="545.66" x2="227.70" y2="545.66" stroke="#3a3a3a" stroke-width="0.6"/>
<text x="225.60" y="547.35" font-size="4.7px" stroke="#3a3a3a" stroke-width="0.16" text-anchor="end" fill="#3a3a3a">0.6</text>
<line x1="226.20" y1="558.54" x2="227.70" y2="558.54" stroke="#3a3a3a" stroke-width="0.6"/>
<text x="225.60" y="560.23" font-size="4.7px" stroke="#3a3a3a" stroke-width="0.16" text-anchor="end" fill="#3a3a3a">0.4</text>
<line x1="226.20" y1="571.42" x2="227.70" y2="571.42" stroke="#3a3a3a" stroke-width="0.6"/>
<text x="225.60" y="573.11" font-size="4.7px" stroke="#3a3a3a" stroke-width="0.16" text-anchor="end" fill="#3a3a3a">0.2</text>
<line x1="226.20" y1="584.30" x2="227.70" y2="584.30" stroke="#3a3a3a" stroke-width="0.6"/>
<text x="225.60" y="585.99" font-size="4.7px" stroke="#3a3a3a" stroke-width="0.16" text-anchor="end" fill="#3a3a3a">0.0</text>
<line x1="226.20" y1="597.18" x2="227.70" y2="597.18" stroke="#3a3a3a" stroke-width="0.6"/>
<text x="225.60" y="598.87" font-size="4.7px" stroke="#3a3a3a" stroke-width="0.16" text-anchor="end" fill="#3a3a3a">−0.2</text>
<line x1="226.20" y1="610.06" x2="227.70" y2="610.06" stroke="#3a3a3a" stroke-width="0.6"/>
<text x="225.60" y="611.75" font-size="4.7px" stroke="#3a3a3a" stroke-width="0.16" text-anchor="end" fill="#3a3a3a">−0.4</text>
<text x="269.80" y="623.10" font-size="5.9px" stroke="#333333" stroke-width="0.16" text-anchor="middle" fill="#333333">Axis1 (20.32%)</text>
<text x="0" y="0" transform="translate(216.20,573.50) rotate(-90)" font-size="5.9px" stroke="#333333" stroke-width="0.16" text-anchor="middle" fill="#333333">Axis2 (14.49%)</text>
<text x="310.40" y="631.30" font-size="8.3px" text-anchor="end" fill="#231f20"><tspan font-style="italic">p</tspan> = 0.009</text>
<circle cx="376.80" cy="564.60" r="1.85" fill="#4f66c6" fill-opacity="0.9"/>
<circle cx="383.00" cy="559.60" r="1.85" fill="#4f66c6" fill-opacity="0.9"/>
<circle cx="383.40" cy="561.80" r="1.85" fill="#4f66c6" fill-opacity="0.9"/>
<circle cx="389.70" cy="563.50" r="1.85" fill="#4f66c6" fill-opacity="0.9"/>
<circle cx="385.50" cy="568.80" r="1.85" fill="#4f66c6" fill-opacity="0.9"/>
<circle cx="387.20" cy="569.70" r="1.85" fill="#4f66c6" fill-opacity="0.9"/>
<circle cx="381.80" cy="573.90" r="1.85" fill="#4f66c6" fill-opacity="0.9"/>
<circle cx="361.20" cy="582.30" r="1.85" fill="#4f66c6" fill-opacity="0.9"/>
<circle cx="377.50" cy="582.60" r="1.85" fill="#4f66c6" fill-opacity="0.9"/>
<circle cx="388.10" cy="582.30" r="1.85" fill="#4f66c6" fill-opacity="0.9"/>
<circle cx="386.40" cy="587.00" r="1.85" fill="#4f66c6" fill-opacity="0.9"/>
<circle cx="397.30" cy="597.00" r="1.85" fill="#4f66c6" fill-opacity="0.9"/>
<circle cx="399.80" cy="598.20" r="1.85" fill="#4f66c6" fill-opacity="0.9"/>
<circle cx="401.50" cy="597.00" r="1.85" fill="#4f66c6" fill-opacity="0.9"/>
<circle cx="361.20" cy="584.00" r="1.85" fill="#4f66c6" fill-opacity="0.9"/>
<circle cx="360.40" cy="583.60" r="1.85" fill="#f0624a" fill-opacity="0.9"/>
<circle cx="360.70" cy="585.00" r="1.85" fill="#f0624a" fill-opacity="0.9"/>
<circle cx="365.40" cy="587.30" r="1.85" fill="#f0624a" fill-opacity="0.9"/>
<circle cx="367.90" cy="587.30" r="1.85" fill="#f0624a" fill-opacity="0.9"/>
<circle cx="383.90" cy="576.40" r="1.85" fill="#f0624a" fill-opacity="0.9"/>
<circle cx="386.40" cy="578.90" r="1.85" fill="#f0624a" fill-opacity="0.9"/>
<circle cx="388.10" cy="579.20" r="1.85" fill="#f0624a" fill-opacity="0.9"/>
<circle cx="383.90" cy="584.30" r="1.85" fill="#f0624a" fill-opacity="0.9"/>
<circle cx="390.60" cy="583.40" r="1.85" fill="#f0624a" fill-opacity="0.9"/>
<ellipse cx="370.45" cy="583.35" rx="34.00" ry="6.80" transform="rotate(-10 370.45 583.35)" fill="none" stroke="#e8252b" stroke-width="1.3"/>
<ellipse cx="383.05" cy="577.40" rx="34.20" ry="27.10" transform="rotate(60 383.05 577.40)" fill="none" stroke="#2350b0" stroke-width="1.3"/>
<rect x="333.50" y="542.00" width="81.90" height="70.10" fill="none" stroke="#3a3a3a" stroke-width="0.9"/>
<line x1="340.50" y1="612.10" x2="340.50" y2="613.60" stroke="#3a3a3a" stroke-width="0.6"/>
<text x="340.50" y="617.60" font-size="4.7px" stroke="#3a3a3a" stroke-width="0.16" text-anchor="middle" fill="#3a3a3a">−0.4</text>
<line x1="359.50" y1="612.10" x2="359.50" y2="613.60" stroke="#3a3a3a" stroke-width="0.6"/>
<text x="359.50" y="617.60" font-size="4.7px" stroke="#3a3a3a" stroke-width="0.16" text-anchor="middle" fill="#3a3a3a">−0.2</text>
<line x1="378.50" y1="612.10" x2="378.50" y2="613.60" stroke="#3a3a3a" stroke-width="0.6"/>
<text x="378.50" y="617.60" font-size="4.7px" stroke="#3a3a3a" stroke-width="0.16" text-anchor="middle" fill="#3a3a3a">0.0</text>
<line x1="397.50" y1="612.10" x2="397.50" y2="613.60" stroke="#3a3a3a" stroke-width="0.6"/>
<text x="397.50" y="617.60" font-size="4.7px" stroke="#3a3a3a" stroke-width="0.16" text-anchor="middle" fill="#3a3a3a">0.2</text>
<line x1="332.00" y1="542.80" x2="333.50" y2="542.80" stroke="#3a3a3a" stroke-width="0.6"/>
<text x="331.40" y="544.49" font-size="4.7px" stroke="#3a3a3a" stroke-width="0.16" text-anchor="end" fill="#3a3a3a">0.50</text>
<line x1="332.00" y1="561.70" x2="333.50" y2="561.70" stroke="#3a3a3a" stroke-width="0.6"/>
<text x="331.40" y="563.39" font-size="4.7px" stroke="#3a3a3a" stroke-width="0.16" text-anchor="end" fill="#3a3a3a">0.25</text>
<line x1="332.00" y1="580.60" x2="333.50" y2="580.60" stroke="#3a3a3a" stroke-width="0.6"/>
<text x="331.40" y="582.29" font-size="4.7px" stroke="#3a3a3a" stroke-width="0.16" text-anchor="end" fill="#3a3a3a">0.00</text>
<line x1="332.00" y1="599.50" x2="333.50" y2="599.50" stroke="#3a3a3a" stroke-width="0.6"/>
<text x="331.40" y="601.19" font-size="4.7px" stroke="#3a3a3a" stroke-width="0.16" text-anchor="end" fill="#3a3a3a">−0.25</text>
<text x="379.00" y="623.10" font-size="5.9px" stroke="#333333" stroke-width="0.16" text-anchor="middle" fill="#333333">Axis1 (26.34%)</text>
<text x="0" y="0" transform="translate(319.10,573.50) rotate(-90)" font-size="5.9px" stroke="#333333" stroke-width="0.16" text-anchor="middle" fill="#333333">Axis2 (23.15%)</text>
<text x="415.50" y="631.30" font-size="8.3px" text-anchor="end" fill="#231f20"><tspan font-style="italic">p</tspan> = 0.01</text>
<circle cx="26.40" cy="677.00" r="1.85" fill="#4f66c6" fill-opacity="0.9"/>
<circle cx="44.00" cy="705.50" r="1.85" fill="#4f66c6" fill-opacity="0.9"/>
<circle cx="55.10" cy="708.40" r="1.85" fill="#4f66c6" fill-opacity="0.9"/>
<circle cx="60.40" cy="707.70" r="1.85" fill="#4f66c6" fill-opacity="0.9"/>
<circle cx="62.40" cy="707.70" r="1.85" fill="#4f66c6" fill-opacity="0.9"/>
<circle cx="64.60" cy="698.50" r="1.85" fill="#4f66c6" fill-opacity="0.9"/>
<circle cx="66.30" cy="708.90" r="1.85" fill="#4f66c6" fill-opacity="0.9"/>
<circle cx="34.40" cy="721.10" r="1.85" fill="#4f66c6" fill-opacity="0.9"/>
<circle cx="38.60" cy="719.80" r="1.85" fill="#4f66c6" fill-opacity="0.9"/>
<circle cx="42.30" cy="720.10" r="1.85" fill="#4f66c6" fill-opacity="0.9"/>
<circle cx="40.60" cy="726.20" r="1.85" fill="#4f66c6" fill-opacity="0.9"/>
<circle cx="44.00" cy="726.20" r="1.85" fill="#4f66c6" fill-opacity="0.9"/>
<circle cx="46.70" cy="726.20" r="1.85" fill="#4f66c6" fill-opacity="0.9"/>
<circle cx="50.00" cy="723.50" r="1.85" fill="#4f66c6" fill-opacity="0.9"/>
<circle cx="57.10" cy="725.10" r="1.85" fill="#4f66c6" fill-opacity="0.9"/>
<circle cx="58.40" cy="724.30" r="1.85" fill="#4f66c6" fill-opacity="0.9"/>
<circle cx="77.20" cy="722.60" r="1.85" fill="#4f66c6" fill-opacity="0.9"/>
<circle cx="21.00" cy="698.50" r="1.85" fill="#f0624a" fill-opacity="0.9"/>
<circle cx="25.50" cy="699.30" r="1.85" fill="#f0624a" fill-opacity="0.9"/>
<circle cx="63.80" cy="685.40" r="1.85" fill="#f0624a" fill-opacity="0.9"/>
<circle cx="58.40" cy="697.10" r="1.85" fill="#f0624a" fill-opacity="0.9"/>
<circle cx="71.30" cy="695.90" r="1.85" fill="#f0624a" fill-opacity="0.9"/>
<circle cx="76.70" cy="697.40" r="1.85" fill="#f0624a" fill-opacity="0.9"/>
<circle cx="72.20" cy="706.30" r="1.85" fill="#f0624a" fill-opacity="0.9"/>
<circle cx="74.00" cy="706.80" r="1.85" fill="#f0624a" fill-opacity="0.9"/>
<circle cx="73.20" cy="708.90" r="1.85" fill="#f0624a" fill-opacity="0.9"/>
<circle cx="55.10" cy="713.10" r="1.85" fill="#f0624a" fill-opacity="0.9"/>
<circle cx="57.10" cy="713.90" r="1.85" fill="#f0624a" fill-opacity="0.9"/>
<circle cx="64.60" cy="710.00" r="1.85" fill="#f0624a" fill-opacity="0.9"/>
<circle cx="73.40" cy="713.90" r="1.85" fill="#f0624a" fill-opacity="0.9"/>
<circle cx="69.70" cy="718.90" r="1.85" fill="#f0624a" fill-opacity="0.9"/>
<circle cx="71.90" cy="718.90" r="1.85" fill="#f0624a" fill-opacity="0.9"/>
<circle cx="76.40" cy="719.30" r="1.85" fill="#f0624a" fill-opacity="0.9"/>
<circle cx="46.70" cy="721.80" r="1.85" fill="#f0624a" fill-opacity="0.9"/>
<circle cx="49.20" cy="722.60" r="1.85" fill="#f0624a" fill-opacity="0.9"/>
<circle cx="39.10" cy="729.00" r="1.85" fill="#f0624a" fill-opacity="0.9"/>
<circle cx="76.40" cy="722.30" r="1.85" fill="#f0624a" fill-opacity="0.9"/>
<ellipse cx="66.30" cy="711.55" rx="31.50" ry="24.40" transform="rotate(-4 66.30 711.55)" fill="none" stroke="#e8252b" stroke-width="1.3"/>
<ellipse cx="50.60" cy="718.10" rx="29.50" ry="21.30" transform="rotate(-35 50.60 718.10)" fill="none" stroke="#2350b0" stroke-width="1.3"/>
<rect x="17.60" y="673.60" width="83.80" height="72.00" fill="none" stroke="#3a3a3a" stroke-width="0.9"/>
<line x1="19.30" y1="745.60" x2="19.30" y2="747.10" stroke="#3a3a3a" stroke-width="0.6"/>
<text x="19.30" y="751.10" font-size="4.7px" stroke="#3a3a3a" stroke-width="0.16" text-anchor="middle" fill="#3a3a3a">−0.4</text>
<line x1="38.20" y1="745.60" x2="38.20" y2="747.10" stroke="#3a3a3a" stroke-width="0.6"/>
<text x="38.20" y="751.10" font-size="4.7px" stroke="#3a3a3a" stroke-width="0.16" text-anchor="middle" fill="#3a3a3a">−0.2</text>
<line x1="57.10" y1="745.60" x2="57.10" y2="747.10" stroke="#3a3a3a" stroke-width="0.6"/>
<text x="57.10" y="751.10" font-size="4.7px" stroke="#3a3a3a" stroke-width="0.16" text-anchor="middle" fill="#3a3a3a">0.0</text>
<line x1="76.00" y1="745.60" x2="76.00" y2="747.10" stroke="#3a3a3a" stroke-width="0.6"/>
<text x="76.00" y="751.10" font-size="4.7px" stroke="#3a3a3a" stroke-width="0.16" text-anchor="middle" fill="#3a3a3a">0.2</text>
<line x1="94.90" y1="745.60" x2="94.90" y2="747.10" stroke="#3a3a3a" stroke-width="0.6"/>
<text x="94.90" y="751.10" font-size="4.7px" stroke="#3a3a3a" stroke-width="0.16" text-anchor="middle" fill="#3a3a3a">0.4</text>
<line x1="16.10" y1="676.52" x2="17.60" y2="676.52" stroke="#3a3a3a" stroke-width="0.6"/>
<text x="15.50" y="678.21" font-size="4.7px" stroke="#3a3a3a" stroke-width="0.16" text-anchor="end" fill="#3a3a3a">0.4</text>
<line x1="16.10" y1="694.56" x2="17.60" y2="694.56" stroke="#3a3a3a" stroke-width="0.6"/>
<text x="15.50" y="696.25" font-size="4.7px" stroke="#3a3a3a" stroke-width="0.16" text-anchor="end" fill="#3a3a3a">0.2</text>
<line x1="16.10" y1="712.60" x2="17.60" y2="712.60" stroke="#3a3a3a" stroke-width="0.6"/>
<text x="15.50" y="714.29" font-size="4.7px" stroke="#3a3a3a" stroke-width="0.16" text-anchor="end" fill="#3a3a3a">0.0</text>
<line x1="16.10" y1="730.64" x2="17.60" y2="730.64" stroke="#3a3a3a" stroke-width="0.6"/>
<text x="15.50" y="732.33" font-size="4.7px" stroke="#3a3a3a" stroke-width="0.16" text-anchor="end" fill="#3a3a3a">−0.2</text>
<text x="58.30" y="756.60" font-size="5.9px" stroke="#333333" stroke-width="0.16" text-anchor="middle" fill="#333333">Axis1 (18.25%)</text>
<text x="0" y="0" transform="translate(5.40,709.00) rotate(-90)" font-size="5.9px" stroke="#333333" stroke-width="0.16" text-anchor="middle" fill="#333333">Axis2 (11.82%)</text>
<text x="101.30" y="769.30" font-size="8.3px" text-anchor="end" fill="#231f20"><tspan font-style="italic">p</tspan> = 0.002</text>
<circle cx="151.20" cy="689.00" r="1.85" fill="#4f66c6" fill-opacity="0.9"/>
<circle cx="152.30" cy="688.40" r="1.85" fill="#4f66c6" fill-opacity="0.9"/>
<circle cx="155.00" cy="688.40" r="1.85" fill="#4f66c6" fill-opacity="0.9"/>
<circle cx="150.70" cy="691.00" r="1.85" fill="#4f66c6" fill-opacity="0.9"/>
<circle cx="151.20" cy="693.80" r="1.85" fill="#4f66c6" fill-opacity="0.9"/>
<circle cx="151.20" cy="697.40" r="1.85" fill="#4f66c6" fill-opacity="0.9"/>
<circle cx="150.00" cy="701.30" r="1.85" fill="#4f66c6" fill-opacity="0.9"/>
<circle cx="173.80" cy="701.60" r="1.85" fill="#4f66c6" fill-opacity="0.9"/>
<circle cx="152.30" cy="719.30" r="1.85" fill="#4f66c6" fill-opacity="0.9"/>
<circle cx="171.30" cy="717.30" r="1.85" fill="#4f66c6" fill-opacity="0.9"/>
<circle cx="171.00" cy="720.10" r="1.85" fill="#4f66c6" fill-opacity="0.9"/>
<circle cx="175.20" cy="719.00" r="1.85" fill="#4f66c6" fill-opacity="0.9"/>
<circle cx="168.50" cy="724.50" r="1.85" fill="#4f66c6" fill-opacity="0.9"/>
<circle cx="179.70" cy="712.20" r="1.85" fill="#4f66c6" fill-opacity="0.9"/>
<circle cx="183.90" cy="712.60" r="1.85" fill="#4f66c6" fill-opacity="0.9"/>
<circle cx="183.60" cy="720.30" r="1.85" fill="#4f66c6" fill-opacity="0.9"/>
<circle cx="183.90" cy="723.10" r="1.85" fill="#4f66c6" fill-opacity="0.9"/>
<circle cx="183.40" cy="721.80" r="1.85" fill="#4f66c6" fill-opacity="0.9"/>
<circle cx="147.80" cy="697.40" r="1.85" fill="#f0624a" fill-opacity="0.9"/>
<circle cx="144.80" cy="706.30" r="1.85" fill="#f0624a" fill-opacity="0.9"/>
<circle cx="145.30" cy="706.80" r="1.85" fill="#f0624a" fill-opacity="0.9"/>
<circle cx="141.10" cy="718.90" r="1.85" fill="#f0624a" fill-opacity="0.9"/>
<circle cx="142.00" cy="719.70" r="1.85" fill="#f0624a" fill-opacity="0.9"/>
<circle cx="136.60" cy="722.30" r="1.85" fill="#f0624a" fill-opacity="0.9"/>
<circle cx="180.20" cy="715.60" r="1.85" fill="#f0624a" fill-opacity="0.9"/>
<circle cx="162.10" cy="725.10" r="1.85" fill="#f0624a" fill-opacity="0.9"/>
<ellipse cx="141.45" cy="719.20" rx="9.40" ry="4.80" transform="rotate(-42 141.45 719.20)" fill="none" stroke="#e8252b" stroke-width="1.3"/>
<ellipse cx="165.40" cy="709.70" rx="46.40" ry="20.20" transform="rotate(38 165.40 709.70)" fill="none" stroke="#2350b0" stroke-width="1.3"/>
<rect x="124.30" y="674.00" width="83.10" height="71.60" fill="none" stroke="#3a3a3a" stroke-width="0.9"/>
<line x1="134.80" y1="745.60" x2="134.80" y2="747.10" stroke="#3a3a3a" stroke-width="0.6"/>
<text x="134.80" y="751.10" font-size="4.7px" stroke="#3a3a3a" stroke-width="0.16" text-anchor="middle" fill="#3a3a3a">−0.2</text>
<line x1="152.30" y1="745.60" x2="152.30" y2="747.10" stroke="#3a3a3a" stroke-width="0.6"/>
<text x="152.30" y="751.10" font-size="4.7px" stroke="#3a3a3a" stroke-width="0.16" text-anchor="middle" fill="#3a3a3a">0.0</text>
<line x1="169.80" y1="745.60" x2="169.80" y2="747.10" stroke="#3a3a3a" stroke-width="0.6"/>
<text x="169.80" y="751.10" font-size="4.7px" stroke="#3a3a3a" stroke-width="0.16" text-anchor="middle" fill="#3a3a3a">0.2</text>
<line x1="187.30" y1="745.60" x2="187.30" y2="747.10" stroke="#3a3a3a" stroke-width="0.6"/>
<text x="187.30" y="751.10" font-size="4.7px" stroke="#3a3a3a" stroke-width="0.16" text-anchor="middle" fill="#3a3a3a">0.4</text>
<line x1="204.80" y1="745.60" x2="204.80" y2="747.10" stroke="#3a3a3a" stroke-width="0.6"/>
<text x="204.80" y="751.10" font-size="4.7px" stroke="#3a3a3a" stroke-width="0.16" text-anchor="middle" fill="#3a3a3a">0.6</text>
<line x1="122.80" y1="681.70" x2="124.30" y2="681.70" stroke="#3a3a3a" stroke-width="0.6"/>
<text x="122.20" y="683.39" font-size="4.7px" stroke="#3a3a3a" stroke-width="0.16" text-anchor="end" fill="#3a3a3a">0.4</text>
<line x1="122.80" y1="698.20" x2="124.30" y2="698.20" stroke="#3a3a3a" stroke-width="0.6"/>
<text x="122.20" y="699.89" font-size="4.7px" stroke="#3a3a3a" stroke-width="0.16" text-anchor="end" fill="#3a3a3a">0.2</text>
<line x1="122.80" y1="714.70" x2="124.30" y2="714.70" stroke="#3a3a3a" stroke-width="0.6"/>
<text x="122.20" y="716.39" font-size="4.7px" stroke="#3a3a3a" stroke-width="0.16" text-anchor="end" fill="#3a3a3a">0.0</text>
<line x1="122.80" y1="731.20" x2="124.30" y2="731.20" stroke="#3a3a3a" stroke-width="0.6"/>
<text x="122.20" y="732.89" font-size="4.7px" stroke="#3a3a3a" stroke-width="0.16" text-anchor="end" fill="#3a3a3a">−0.2</text>
<text x="166.70" y="756.60" font-size="5.9px" stroke="#333333" stroke-width="0.16" text-anchor="middle" fill="#333333">Axis1 (43.03%)</text>
<text x="0" y="0" transform="translate(111.20,709.00) rotate(-90)" font-size="5.9px" stroke="#333333" stroke-width="0.16" text-anchor="middle" fill="#333333">Axis2 (21.55%)</text>
<text x="205.80" y="769.00" font-size="8.3px" text-anchor="end" fill="#231f20"><tspan font-style="italic">p</tspan> = 0.001</text>
<circle cx="253.30" cy="695.10" r="1.85" fill="#4f66c6" fill-opacity="0.9"/>
<circle cx="254.50" cy="696.30" r="1.85" fill="#4f66c6" fill-opacity="0.9"/>
<circle cx="276.30" cy="694.60" r="1.85" fill="#4f66c6" fill-opacity="0.9"/>
<circle cx="278.00" cy="695.10" r="1.85" fill="#4f66c6" fill-opacity="0.9"/>
<circle cx="279.20" cy="696.80" r="1.85" fill="#4f66c6" fill-opacity="0.9"/>
<circle cx="276.60" cy="699.30" r="1.85" fill="#4f66c6" fill-opacity="0.9"/>
<circle cx="281.80" cy="701.30" r="1.85" fill="#4f66c6" fill-opacity="0.9"/>
<circle cx="286.90" cy="705.00" r="1.85" fill="#4f66c6" fill-opacity="0.9"/>
<circle cx="295.10" cy="705.20" r="1.85" fill="#4f66c6" fill-opacity="0.9"/>
<circle cx="275.10" cy="707.20" r="1.85" fill="#4f66c6" fill-opacity="0.9"/>
<circle cx="269.60" cy="711.70" r="1.85" fill="#4f66c6" fill-opacity="0.9"/>
<circle cx="257.30" cy="716.40" r="1.85" fill="#4f66c6" fill-opacity="0.9"/>
<circle cx="287.20" cy="716.40" r="1.85" fill="#4f66c6" fill-opacity="0.9"/>
<circle cx="296.80" cy="717.30" r="1.85" fill="#4f66c6" fill-opacity="0.9"/>
<circle cx="275.50" cy="723.10" r="1.85" fill="#4f66c6" fill-opacity="0.9"/>
<circle cx="278.80" cy="726.80" r="1.85" fill="#4f66c6" fill-opacity="0.9"/>
<circle cx="241.10" cy="722.00" r="1.85" fill="#4f66c6" fill-opacity="0.9"/>
<circle cx="256.20" cy="735.20" r="1.85" fill="#4f66c6" fill-opacity="0.9"/>
<circle cx="267.90" cy="735.70" r="1.85" fill="#4f66c6" fill-opacity="0.9"/>
<circle cx="260.40" cy="688.40" r="1.85" fill="#f0624a" fill-opacity="0.9"/>
<circle cx="261.20" cy="690.70" r="1.85" fill="#f0624a" fill-opacity="0.9"/>
<circle cx="245.30" cy="698.50" r="1.85" fill="#f0624a" fill-opacity="0.9"/>
<circle cx="250.30" cy="700.50" r="1.85" fill="#f0624a" fill-opacity="0.9"/>
<circle cx="254.00" cy="697.40" r="1.85" fill="#f0624a" fill-opacity="0.9"/>
<circle cx="258.70" cy="699.30" r="1.85" fill="#f0624a" fill-opacity="0.9"/>
<circle cx="240.20" cy="703.00" r="1.85" fill="#f0624a" fill-opacity="0.9"/>
<circle cx="241.90" cy="702.00" r="1.85" fill="#f0624a" fill-opacity="0.9"/>
<circle cx="244.40" cy="707.20" r="1.85" fill="#f0624a" fill-opacity="0.9"/>
<circle cx="250.30" cy="709.70" r="1.85" fill="#f0624a" fill-opacity="0.9"/>
<circle cx="252.80" cy="710.50" r="1.85" fill="#f0624a" fill-opacity="0.9"/>
<circle cx="255.30" cy="710.00" r="1.85" fill="#f0624a" fill-opacity="0.9"/>
<circle cx="247.80" cy="713.10" r="1.85" fill="#f0624a" fill-opacity="0.9"/>
<circle cx="251.10" cy="714.20" r="1.85" fill="#f0624a" fill-opacity="0.9"/>
<circle cx="241.90" cy="716.10" r="1.85" fill="#f0624a" fill-opacity="0.9"/>
<circle cx="246.90" cy="716.80" r="1.85" fill="#f0624a" fill-opacity="0.9"/>
<circle cx="267.10" cy="720.30" r="1.85" fill="#f0624a" fill-opacity="0.9"/>
<circle cx="272.40" cy="715.90" r="1.85" fill="#f0624a" fill-opacity="0.9"/>
<circle cx="236.90" cy="723.50" r="1.85" fill="#f0624a" fill-opacity="0.9"/>
<ellipse cx="250.95" cy="705.65" rx="24.50" ry="17.10" transform="rotate(-65 250.95 705.65)" fill="none" stroke="#e8252b" stroke-width="1.3"/>
<ellipse cx="275.70" cy="709.90" rx="38.90" ry="25.60" transform="rotate(-45 275.70 709.90)" fill="none" stroke="#2350b0" stroke-width="1.3"/>
<rect x="228.50" y="674.40" width="83.90" height="71.40" fill="none" stroke="#3a3a3a" stroke-width="0.9"/>
<line x1="238.10" y1="745.80" x2="238.10" y2="747.30" stroke="#3a3a3a" stroke-width="0.6"/>
<text x="238.10" y="751.29" font-size="4.7px" stroke="#3a3a3a" stroke-width="0.16" text-anchor="middle" fill="#3a3a3a">−0.25</text>
<line x1="262.50" y1="745.80" x2="262.50" y2="747.30" stroke="#3a3a3a" stroke-width="0.6"/>
<text x="262.50" y="751.29" font-size="4.7px" stroke="#3a3a3a" stroke-width="0.16" text-anchor="middle" fill="#3a3a3a">0.00</text>
<line x1="286.90" y1="745.80" x2="286.90" y2="747.30" stroke="#3a3a3a" stroke-width="0.6"/>
<text x="286.90" y="751.29" font-size="4.7px" stroke="#3a3a3a" stroke-width="0.16" text-anchor="middle" fill="#3a3a3a">0.25</text>
<line x1="311.30" y1="745.80" x2="311.30" y2="747.30" stroke="#3a3a3a" stroke-width="0.6"/>
<text x="311.30" y="751.29" font-size="4.7px" stroke="#3a3a3a" stroke-width="0.16" text-anchor="middle" fill="#3a3a3a">0.50</text>
<line x1="227.00" y1="688.10" x2="228.50" y2="688.10" stroke="#3a3a3a" stroke-width="0.6"/>
<text x="226.40" y="689.79" font-size="4.7px" stroke="#3a3a3a" stroke-width="0.16" text-anchor="end" fill="#3a3a3a">0.2</text>
<line x1="227.00" y1="708.40" x2="228.50" y2="708.40" stroke="#3a3a3a" stroke-width="0.6"/>
<text x="226.40" y="710.09" font-size="4.7px" stroke="#3a3a3a" stroke-width="0.16" text-anchor="end" fill="#3a3a3a">0.0</text>
<line x1="227.00" y1="728.70" x2="228.50" y2="728.70" stroke="#3a3a3a" stroke-width="0.6"/>
<text x="226.40" y="730.39" font-size="4.7px" stroke="#3a3a3a" stroke-width="0.16" text-anchor="end" fill="#3a3a3a">−0.2</text>
<text x="274.50" y="756.80" font-size="5.9px" stroke="#333333" stroke-width="0.16" text-anchor="middle" fill="#333333">Axis1 (22.92%)</text>
<text x="0" y="0" transform="translate(216.20,709.00) rotate(-90)" font-size="5.9px" stroke="#333333" stroke-width="0.16" text-anchor="middle" fill="#333333">Axis2 (11.07%)</text>
<text x="311.80" y="769.30" font-size="8.3px" text-anchor="end" fill="#231f20"><tspan font-style="italic">p</tspan> = 0.001</text>
<circle cx="360.00" cy="695.10" r="1.85" fill="#4f66c6" fill-opacity="0.9"/>
<circle cx="360.70" cy="696.80" r="1.85" fill="#4f66c6" fill-opacity="0.9"/>
<circle cx="357.00" cy="699.60" r="1.85" fill="#4f66c6" fill-opacity="0.9"/>
<circle cx="359.00" cy="714.70" r="1.85" fill="#4f66c6" fill-opacity="0.9"/>
<circle cx="367.00" cy="717.60" r="1.85" fill="#4f66c6" fill-opacity="0.9"/>
<circle cx="371.20" cy="723.10" r="1.85" fill="#4f66c6" fill-opacity="0.9"/>
<circle cx="365.40" cy="730.70" r="1.85" fill="#4f66c6" fill-opacity="0.9"/>
<circle cx="369.10" cy="729.30" r="1.85" fill="#4f66c6" fill-opacity="0.9"/>
<circle cx="376.30" cy="728.20" r="1.85" fill="#4f66c6" fill-opacity="0.9"/>
<circle cx="375.80" cy="730.30" r="1.85" fill="#4f66c6" fill-opacity="0.9"/>
<circle cx="386.70" cy="706.30" r="1.85" fill="#4f66c6" fill-opacity="0.9"/>
<circle cx="391.40" cy="699.60" r="1.85" fill="#4f66c6" fill-opacity="0.9"/>
<circle cx="392.60" cy="701.30" r="1.85" fill="#4f66c6" fill-opacity="0.9"/>
<circle cx="395.20" cy="700.10" r="1.85" fill="#4f66c6" fill-opacity="0.9"/>
<circle cx="391.40" cy="703.80" r="1.85" fill="#4f66c6" fill-opacity="0.9"/>
<circle cx="357.30" cy="691.70" r="1.85" fill="#f0624a" fill-opacity="0.9"/>
<circle cx="359.00" cy="692.50" r="1.85" fill="#f0624a" fill-opacity="0.9"/>
<circle cx="357.80" cy="695.80" r="1.85" fill="#f0624a" fill-opacity="0.9"/>
<circle cx="359.50" cy="699.30" r="1.85" fill="#f0624a" fill-opacity="0.9"/>
<circle cx="357.80" cy="705.50" r="1.85" fill="#f0624a" fill-opacity="0.9"/>
<circle cx="359.50" cy="706.80" r="1.85" fill="#f0624a" fill-opacity="0.9"/>
<circle cx="357.80" cy="711.40" r="1.85" fill="#f0624a" fill-opacity="0.9"/>
<circle cx="360.00" cy="721.50" r="1.85" fill="#f0624a" fill-opacity="0.9"/>
<circle cx="368.70" cy="718.40" r="1.85" fill="#f0624a" fill-opacity="0.9"/>
<circle cx="379.10" cy="695.10" r="1.85" fill="#f0624a" fill-opacity="0.9"/>
<circle cx="380.00" cy="694.00" r="1.85" fill="#f0624a" fill-opacity="0.9"/>
<circle cx="383.80" cy="699.60" r="1.85" fill="#f0624a" fill-opacity="0.9"/>
<circle cx="383.80" cy="702.00" r="1.85" fill="#f0624a" fill-opacity="0.9"/>
<circle cx="386.30" cy="703.00" r="1.85" fill="#f0624a" fill-opacity="0.9"/>
<circle cx="388.90" cy="699.60" r="1.85" fill="#f0624a" fill-opacity="0.9"/>
<circle cx="385.50" cy="708.00" r="1.85" fill="#f0624a" fill-opacity="0.9"/>
<circle cx="385.50" cy="715.60" r="1.85" fill="#f0624a" fill-opacity="0.9"/>
<circle cx="382.50" cy="701.00" r="1.85" fill="#f0624a" fill-opacity="0.9"/>
<ellipse cx="370.00" cy="701.35" rx="34.80" ry="18.70" transform="rotate(15 370.00 701.35)" fill="none" stroke="#e8252b" stroke-width="1.3"/>
<ellipse cx="377.00" cy="709.70" rx="40.00" ry="29.00" transform="rotate(-35 377.00 709.70)" fill="none" stroke="#2350b0" stroke-width="1.3"/>
<rect x="333.50" y="674.00" width="83.10" height="71.80" fill="none" stroke="#3a3a3a" stroke-width="0.9"/>
<line x1="353.16" y1="745.80" x2="353.16" y2="747.30" stroke="#3a3a3a" stroke-width="0.6"/>
<text x="353.16" y="751.29" font-size="4.7px" stroke="#3a3a3a" stroke-width="0.16" text-anchor="middle" fill="#3a3a3a">−0.3</text>
<line x1="372.90" y1="745.80" x2="372.90" y2="747.30" stroke="#3a3a3a" stroke-width="0.6"/>
<text x="372.90" y="751.29" font-size="4.7px" stroke="#3a3a3a" stroke-width="0.16" text-anchor="middle" fill="#3a3a3a">0.0</text>
<line x1="392.64" y1="745.80" x2="392.64" y2="747.30" stroke="#3a3a3a" stroke-width="0.6"/>
<text x="392.64" y="751.29" font-size="4.7px" stroke="#3a3a3a" stroke-width="0.16" text-anchor="middle" fill="#3a3a3a">0.3</text>
<line x1="412.38" y1="745.80" x2="412.38" y2="747.30" stroke="#3a3a3a" stroke-width="0.6"/>
<text x="412.38" y="751.29" font-size="4.7px" stroke="#3a3a3a" stroke-width="0.16" text-anchor="middle" fill="#3a3a3a">0.6</text>
<line x1="332.00" y1="687.00" x2="333.50" y2="687.00" stroke="#3a3a3a" stroke-width="0.6"/>
<text x="331.40" y="688.69" font-size="4.7px" stroke="#3a3a3a" stroke-width="0.16" text-anchor="end" fill="#3a3a3a">0.2</text>
<line x1="332.00" y1="705.50" x2="333.50" y2="705.50" stroke="#3a3a3a" stroke-width="0.6"/>
<text x="331.40" y="707.19" font-size="4.7px" stroke="#3a3a3a" stroke-width="0.16" text-anchor="end" fill="#3a3a3a">0.0</text>
<line x1="332.00" y1="724.00" x2="333.50" y2="724.00" stroke="#3a3a3a" stroke-width="0.6"/>
<text x="331.40" y="725.69" font-size="4.7px" stroke="#3a3a3a" stroke-width="0.16" text-anchor="end" fill="#3a3a3a">−0.2</text>
<line x1="332.00" y1="742.50" x2="333.50" y2="742.50" stroke="#3a3a3a" stroke-width="0.6"/>
<text x="331.40" y="744.19" font-size="4.7px" stroke="#3a3a3a" stroke-width="0.16" text-anchor="end" fill="#3a3a3a">−0.4</text>
<text x="375.90" y="756.80" font-size="5.9px" stroke="#333333" stroke-width="0.16" text-anchor="middle" fill="#333333">Axis1 (50.99%)</text>
<text x="0" y="0" transform="translate(320.80,709.00) rotate(-90)" font-size="5.9px" stroke="#333333" stroke-width="0.16" text-anchor="middle" fill="#333333">Axis2 (17.60%)</text>
<text x="417.70" y="769.00" font-size="8.3px" text-anchor="end" fill="#231f20"><tspan font-style="italic">p</tspan> = 0.043</text>
<circle cx="196.70" cy="779.10" r="5.1" fill="#5366c6"/>
<line x1="191.60" y1="779.10" x2="201.80" y2="779.10" stroke="#3a50b0" stroke-width="0.8"/>
<text x="205.00" y="783.10" font-size="10.8px" stroke="#231f20" stroke-width="0.16">Vaginal delivery</text>
<circle cx="196.70" cy="794.50" r="5.1" fill="#f0614a"/>
<line x1="191.60" y1="794.50" x2="201.80" y2="794.50" stroke="#e04a35" stroke-width="0.8"/>
<text x="205.00" y="798.50" font-size="10.8px" stroke="#231f20" stroke-width="0.16">Cesarian-section delivery</text>
<text x="420.20" y="491.80" font-size="21.5px" stroke="#231f20" stroke-width="0.16">g</text>
<rect x="437.30" y="503.40" width="8.05" height="7.43" fill="#e6e1e1"/>
<rect x="445.35" y="503.40" width="8.05" height="7.43" fill="#e4ccd1"/>
<text x="449.38" y="509.72" font-size="7.6px" stroke="#505058" stroke-width="0.16" text-anchor="middle" fill="#505058">−</text>
<rect x="453.40" y="503.40" width="8.05" height="7.43" fill="#e6e1e1"/>
<rect x="461.45" y="503.40" width="8.05" height="7.43" fill="#e6e1e1"/>
<text x="472.50" y="510.62" font-size="9.45px" stroke="#231f20" stroke-width="0.16" font-style="italic">Pseudomonas</text>
<rect x="437.30" y="510.83" width="8.05" height="7.43" fill="#e6e1e1"/>
<rect x="445.35" y="510.83" width="8.05" height="7.43" fill="#d2d5ec"/>
<text x="449.38" y="517.15" font-size="7.6px" stroke="#505058" stroke-width="0.16" text-anchor="middle" fill="#505058">+</text>
<rect x="453.40" y="510.83" width="8.05" height="7.43" fill="#5560bd"/>
<text x="457.43" y="517.15" font-size="7.6px" stroke="#505058" stroke-width="0.16" text-anchor="middle" fill="#505058">+</text>
<rect x="461.45" y="510.83" width="8.05" height="7.43" fill="#9aa1d8"/>
<text x="465.47" y="517.15" font-size="7.6px" stroke="#505058" stroke-width="0.16" text-anchor="middle" fill="#505058">+</text>
<text x="472.50" y="518.05" font-size="9.45px" stroke="#231f20" stroke-width="0.16" font-style="italic">Escherichia.Shigella</text>
<rect x="437.30" y="518.27" width="8.05" height="7.43" fill="#e6e1e1"/>
<rect x="445.35" y="518.27" width="8.05" height="7.43" fill="#e4ccd1"/>
<text x="449.38" y="524.59" font-size="7.6px" stroke="#505058" stroke-width="0.16" text-anchor="middle" fill="#505058">−</text>
<rect x="453.40" y="518.27" width="8.05" height="7.43" fill="#e6e1e1"/>
<rect x="461.45" y="518.27" width="8.05" height="7.43" fill="#e6e1e1"/>
<text x="472.50" y="525.49" font-size="9.45px" stroke="#231f20" stroke-width="0.16" font-style="italic">Desulfurispora</text>
<rect x="437.30" y="525.70" width="8.05" height="7.43" fill="#e6e1e1"/>
<rect x="445.35" y="525.70" width="8.05" height="7.43" fill="#e4ccd1"/>
<text x="449.38" y="532.02" font-size="7.6px" stroke="#505058" stroke-width="0.16" text-anchor="middle" fill="#505058">−</text>
<rect x="453.40" y="525.70" width="8.05" height="7.43" fill="#e6e1e1"/>
<rect x="461.45" y="525.70" width="8.05" height="7.43" fill="#e6e1e1"/>
<text x="472.50" y="532.92" font-size="9.45px" stroke="#231f20" stroke-width="0.16">Family: Caulobacteraceae</text>
<rect x="437.30" y="533.14" width="8.05" height="7.43" fill="#e6e1e1"/>
<rect x="445.35" y="533.14" width="8.05" height="7.43" fill="#e4ccd1"/>
<text x="449.38" y="539.46" font-size="7.6px" stroke="#505058" stroke-width="0.16" text-anchor="middle" fill="#505058">−</text>
<rect x="453.40" y="533.14" width="8.05" height="7.43" fill="#e6e1e1"/>
<rect x="461.45" y="533.14" width="8.05" height="7.43" fill="#e6e1e1"/>
<text x="472.50" y="540.36" font-size="9.45px" stroke="#231f20" stroke-width="0.16">Order: Babeliales</text>
<rect x="437.30" y="540.57" width="8.05" height="7.43" fill="#e6e1e1"/>
<rect x="445.35" y="540.57" width="8.05" height="7.43" fill="#e4ccd1"/>
<text x="449.38" y="546.89" font-size="7.6px" stroke="#505058" stroke-width="0.16" text-anchor="middle" fill="#505058">−</text>
<rect x="453.40" y="540.57" width="8.05" height="7.43" fill="#e6e1e1"/>
<rect x="461.45" y="540.57" width="8.05" height="7.43" fill="#e6e1e1"/>
<text x="472.50" y="547.79" font-size="9.45px" stroke="#231f20" stroke-width="0.16" font-style="italic">Lachnospiraceae_NK4A136_group</text>
<rect x="437.30" y="548.01" width="8.05" height="7.43" fill="#e6e1e1"/>
<rect x="445.35" y="548.01" width="8.05" height="7.43" fill="#e4ccd1"/>
<text x="449.38" y="554.33" font-size="7.6px" stroke="#505058" stroke-width="0.16" text-anchor="middle" fill="#505058">−</text>
<rect x="453.40" y="548.01" width="8.05" height="7.43" fill="#e6e1e1"/>
<rect x="461.45" y="548.01" width="8.05" height="7.43" fill="#e6e1e1"/>
<text x="472.50" y="555.23" font-size="9.45px" stroke="#231f20" stroke-width="0.16" font-style="italic">Acinetobacter</text>
<rect x="437.30" y="555.44" width="8.05" height="7.43" fill="#e6e1e1"/>
<rect x="445.35" y="555.44" width="8.05" height="7.43" fill="#e4ccd1"/>
<text x="449.38" y="561.76" font-size="7.6px" stroke="#505058" stroke-width="0.16" text-anchor="middle" fill="#505058">−</text>
<rect x="453.40" y="555.44" width="8.05" height="7.43" fill="#e6e1e1"/>
<rect x="461.45" y="555.44" width="8.05" height="7.43" fill="#e6e1e1"/>
<text x="472.50" y="562.66" font-size="9.45px" stroke="#231f20" stroke-width="0.16">Class: Oligoflexia</text>
<rect x="437.30" y="562.88" width="8.05" height="7.43" fill="#e6e1e1"/>
<rect x="445.35" y="562.88" width="8.05" height="7.43" fill="#e4ccd1"/>
<text x="449.38" y="569.20" font-size="7.6px" stroke="#505058" stroke-width="0.16" text-anchor="middle" fill="#505058">−</text>
<rect x="453.40" y="562.88" width="8.05" height="7.43" fill="#e6e1e1"/>
<rect x="461.45" y="562.88" width="8.05" height="7.43" fill="#e6e1e1"/>
<text x="472.50" y="570.10" font-size="9.45px" stroke="#231f20" stroke-width="0.16" font-style="italic">Chryseobacterium</text>
<rect x="437.30" y="570.31" width="8.05" height="7.43" fill="#e6e1e1"/>
<rect x="445.35" y="570.31" width="8.05" height="7.43" fill="#e4ccd1"/>
<text x="449.38" y="576.63" font-size="7.6px" stroke="#505058" stroke-width="0.16" text-anchor="middle" fill="#505058">−</text>
<rect x="453.40" y="570.31" width="8.05" height="7.43" fill="#e6e1e1"/>
<rect x="461.45" y="570.31" width="8.05" height="7.43" fill="#e6e1e1"/>
<text x="472.50" y="577.53" font-size="9.45px" stroke="#231f20" stroke-width="0.16">Domain: bacteria</text>
<rect x="437.30" y="577.75" width="8.05" height="7.43" fill="#e6e1e1"/>
<rect x="445.35" y="577.75" width="8.05" height="7.43" fill="#e4ccd1"/>
<text x="449.38" y="584.07" font-size="7.6px" stroke="#505058" stroke-width="0.16" text-anchor="middle" fill="#505058">−</text>
<rect x="453.40" y="577.75" width="8.05" height="7.43" fill="#e6e1e1"/>
<rect x="461.45" y="577.75" width="8.05" height="7.43" fill="#e6e1e1"/>
<text x="472.50" y="584.97" font-size="9.45px" stroke="#231f20" stroke-width="0.16" font-style="italic">Pseudarcicella</text>
<rect x="437.30" y="585.18" width="8.05" height="7.43" fill="#e6e1e1"/>
<rect x="445.35" y="585.18" width="8.05" height="7.43" fill="#e4ccd1"/>
<text x="449.38" y="591.50" font-size="7.6px" stroke="#505058" stroke-width="0.16" text-anchor="middle" fill="#505058">−</text>
<rect x="453.40" y="585.18" width="8.05" height="7.43" fill="#e6e1e1"/>
<rect x="461.45" y="585.18" width="8.05" height="7.43" fill="#e6e1e1"/>
<text x="472.50" y="592.40" font-size="9.45px" stroke="#231f20" stroke-width="0.16" font-style="italic">Flavobacterium</text>
<rect x="437.30" y="592.62" width="8.05" height="7.43" fill="#e6e1e1"/>
<rect x="445.35" y="592.62" width="8.05" height="7.43" fill="#e4ccd1"/>
<text x="449.38" y="598.94" font-size="7.6px" stroke="#505058" stroke-width="0.16" text-anchor="middle" fill="#505058">−</text>
<rect x="453.40" y="592.62" width="8.05" height="7.43" fill="#e6e1e1"/>
<rect x="461.45" y="592.62" width="8.05" height="7.43" fill="#e6e1e1"/>
<text x="472.50" y="599.84" font-size="9.45px" stroke="#231f20" stroke-width="0.16" font-style="italic">Rheinheimera</text>
<rect x="437.30" y="600.05" width="8.05" height="7.43" fill="#e6e1e1"/>
<rect x="445.35" y="600.05" width="8.05" height="7.43" fill="#e4ccd1"/>
<text x="449.38" y="606.37" font-size="7.6px" stroke="#505058" stroke-width="0.16" text-anchor="middle" fill="#505058">−</text>
<rect x="453.40" y="600.05" width="8.05" height="7.43" fill="#e6e1e1"/>
<rect x="461.45" y="600.05" width="8.05" height="7.43" fill="#e6e1e1"/>
<text x="472.50" y="607.27" font-size="9.45px" stroke="#231f20" stroke-width="0.16" font-style="italic">Halomonas</text>
<rect x="437.30" y="607.49" width="8.05" height="7.43" fill="#e6e1e1"/>
<rect x="445.35" y="607.49" width="8.05" height="7.43" fill="#e4ccd1"/>
<text x="449.38" y="613.81" font-size="7.6px" stroke="#505058" stroke-width="0.16" text-anchor="middle" fill="#505058">−</text>
<rect x="453.40" y="607.49" width="8.05" height="7.43" fill="#e6e1e1"/>
<rect x="461.45" y="607.49" width="8.05" height="7.43" fill="#e6e1e1"/>
<text x="472.50" y="614.71" font-size="9.45px" stroke="#231f20" stroke-width="0.16" font-style="italic">Pelomonas</text>
<rect x="437.30" y="614.92" width="8.05" height="7.43" fill="#e6e1e1"/>
<rect x="445.35" y="614.92" width="8.05" height="7.43" fill="#e4ccd1"/>
<text x="449.38" y="621.24" font-size="7.6px" stroke="#505058" stroke-width="0.16" text-anchor="middle" fill="#505058">−</text>
<rect x="453.40" y="614.92" width="8.05" height="7.43" fill="#e6e1e1"/>
<rect x="461.45" y="614.92" width="8.05" height="7.43" fill="#e6e1e1"/>
<text x="472.50" y="622.14" font-size="9.45px" stroke="#231f20" stroke-width="0.16" font-style="italic">Candidatus_Nomurabacteria</text>
<rect x="437.30" y="622.36" width="8.05" height="7.43" fill="#e6e1e1"/>
<rect x="445.35" y="622.36" width="8.05" height="7.43" fill="#e4ccd1"/>
<text x="449.38" y="628.68" font-size="7.6px" stroke="#505058" stroke-width="0.16" text-anchor="middle" fill="#505058">−</text>
<rect x="453.40" y="622.36" width="8.05" height="7.43" fill="#e6e1e1"/>
<rect x="461.45" y="622.36" width="8.05" height="7.43" fill="#e6e1e1"/>
<text x="472.50" y="629.58" font-size="9.45px" stroke="#231f20" stroke-width="0.16" font-style="italic">Polynucleobacter</text>
<rect x="437.30" y="629.79" width="8.05" height="7.43" fill="#e6e1e1"/>
<rect x="445.35" y="629.79" width="8.05" height="7.43" fill="#e4ccd1"/>
<text x="449.38" y="636.11" font-size="7.6px" stroke="#505058" stroke-width="0.16" text-anchor="middle" fill="#505058">−</text>
<rect x="453.40" y="629.79" width="8.05" height="7.43" fill="#e6e1e1"/>
<rect x="461.45" y="629.79" width="8.05" height="7.43" fill="#d2d5ec"/>
<text x="465.47" y="636.11" font-size="7.6px" stroke="#505058" stroke-width="0.16" text-anchor="middle" fill="#505058">+</text>
<text x="472.50" y="637.01" font-size="9.45px" stroke="#231f20" stroke-width="0.16" font-style="italic">Lactobacillus</text>
<rect x="437.30" y="637.23" width="8.05" height="7.43" fill="#e6e1e1"/>
<rect x="445.35" y="637.23" width="8.05" height="7.43" fill="#e4ccd1"/>
<text x="449.38" y="643.55" font-size="7.6px" stroke="#505058" stroke-width="0.16" text-anchor="middle" fill="#505058">−</text>
<rect x="453.40" y="637.23" width="8.05" height="7.43" fill="#e6e1e1"/>
<rect x="461.45" y="637.23" width="8.05" height="7.43" fill="#e6e1e1"/>
<text x="472.50" y="644.45" font-size="9.45px" stroke="#231f20" stroke-width="0.16">Mitochondria</text>
<rect x="437.30" y="644.66" width="8.05" height="7.43" fill="#e6e1e1"/>
<rect x="445.35" y="644.66" width="8.05" height="7.43" fill="#e4ccd1"/>
<text x="449.38" y="650.98" font-size="7.6px" stroke="#505058" stroke-width="0.16" text-anchor="middle" fill="#505058">−</text>
<rect x="453.40" y="644.66" width="8.05" height="7.43" fill="#e6e1e1"/>
<rect x="461.45" y="644.66" width="8.05" height="7.43" fill="#e6e1e1"/>
<text x="472.50" y="651.88" font-size="9.45px" stroke="#231f20" stroke-width="0.16">Family: Anaerolineaceae</text>
<rect x="437.30" y="652.10" width="8.05" height="7.43" fill="#e6e1e1"/>
<rect x="445.35" y="652.10" width="8.05" height="7.43" fill="#e6e1e1"/>
<rect x="453.40" y="652.10" width="8.05" height="7.43" fill="#c0606c"/>
<text x="457.43" y="658.42" font-size="7.6px" stroke="#505058" stroke-width="0.16" text-anchor="middle" fill="#505058">−</text>
<rect x="461.45" y="652.10" width="8.05" height="7.43" fill="#e6e1e1"/>
<text x="472.50" y="659.32" font-size="9.45px" stroke="#231f20" stroke-width="0.16" font-style="italic">Staphylococcus</text>
<rect x="437.30" y="659.53" width="8.05" height="7.43" fill="#e6e1e1"/>
<rect x="445.35" y="659.53" width="8.05" height="7.43" fill="#e6e1e1"/>
<rect x="453.40" y="659.53" width="8.05" height="7.43" fill="#7e86cc"/>
<text x="457.43" y="665.85" font-size="7.6px" stroke="#505058" stroke-width="0.16" text-anchor="middle" fill="#505058">+</text>
<rect x="461.45" y="659.53" width="8.05" height="7.43" fill="#7e86cc"/>
<text x="465.47" y="665.85" font-size="7.6px" stroke="#505058" stroke-width="0.16" text-anchor="middle" fill="#505058">+</text>
<text x="472.50" y="666.75" font-size="9.45px" stroke="#231f20" stroke-width="0.16" font-style="italic">Bacteroides</text>
<rect x="437.30" y="666.97" width="8.05" height="7.43" fill="#e6e1e1"/>
<rect x="445.35" y="666.97" width="8.05" height="7.43" fill="#e6e1e1"/>
<rect x="453.40" y="666.97" width="8.05" height="7.43" fill="#7e86cc"/>
<text x="457.43" y="673.29" font-size="7.6px" stroke="#505058" stroke-width="0.16" text-anchor="middle" fill="#505058">+</text>
<rect x="461.45" y="666.97" width="8.05" height="7.43" fill="#e6e1e1"/>
<text x="472.50" y="674.19" font-size="9.45px" stroke="#231f20" stroke-width="0.16" font-style="italic">Bifidobacterium</text>
<rect x="437.30" y="674.40" width="8.05" height="7.43" fill="#e6e1e1"/>
<rect x="445.35" y="674.40" width="8.05" height="7.43" fill="#e6e1e1"/>
<rect x="453.40" y="674.40" width="8.05" height="7.43" fill="#e4ccd1"/>
<text x="457.43" y="680.72" font-size="7.6px" stroke="#505058" stroke-width="0.16" text-anchor="middle" fill="#505058">−</text>
<rect x="461.45" y="674.40" width="8.05" height="7.43" fill="#e6e1e1"/>
<text x="472.50" y="681.62" font-size="9.45px" stroke="#231f20" stroke-width="0.16" font-style="italic">Rothia</text>
<rect x="437.30" y="681.84" width="8.05" height="7.43" fill="#e6e1e1"/>
<rect x="445.35" y="681.84" width="8.05" height="7.43" fill="#e6e1e1"/>
<rect x="453.40" y="681.84" width="8.05" height="7.43" fill="#e4ccd1"/>
<text x="457.43" y="688.16" font-size="7.6px" stroke="#505058" stroke-width="0.16" text-anchor="middle" fill="#505058">−</text>
<rect x="461.45" y="681.84" width="8.05" height="7.43" fill="#e6e1e1"/>
<text x="472.50" y="689.06" font-size="9.45px" stroke="#231f20" stroke-width="0.16" font-style="italic">Haemophilus</text>
<rect x="437.30" y="689.27" width="8.05" height="7.43" fill="#e6e1e1"/>
<rect x="445.35" y="689.27" width="8.05" height="7.43" fill="#e6e1e1"/>
<rect x="453.40" y="689.27" width="8.05" height="7.43" fill="#d2d5ec"/>
<text x="457.43" y="695.59" font-size="7.6px" stroke="#505058" stroke-width="0.16" text-anchor="middle" fill="#505058">+</text>
<rect x="461.45" y="689.27" width="8.05" height="7.43" fill="#e6e1e1"/>
<text x="472.50" y="696.49" font-size="9.45px" stroke="#231f20" stroke-width="0.16" font-style="italic">Corynebacterium</text>
<rect x="437.30" y="696.71" width="8.05" height="7.43" fill="#e6e1e1"/>
<rect x="445.35" y="696.71" width="8.05" height="7.43" fill="#e6e1e1"/>
<rect x="453.40" y="696.71" width="8.05" height="7.43" fill="#e4ccd1"/>
<text x="457.43" y="703.03" font-size="7.6px" stroke="#505058" stroke-width="0.16" text-anchor="middle" fill="#505058">−</text>
<rect x="461.45" y="696.71" width="8.05" height="7.43" fill="#e6e1e1"/>
<text x="472.50" y="703.93" font-size="9.45px" stroke="#231f20" stroke-width="0.16" font-style="italic">Bacillus</text>
<rect x="437.30" y="704.14" width="8.05" height="7.43" fill="#e6e1e1"/>
<rect x="445.35" y="704.14" width="8.05" height="7.43" fill="#e6e1e1"/>
<rect x="453.40" y="704.14" width="8.05" height="7.43" fill="#d2d5ec"/>
<text x="457.43" y="710.46" font-size="7.6px" stroke="#505058" stroke-width="0.16" text-anchor="middle" fill="#505058">+</text>
<rect x="461.45" y="704.14" width="8.05" height="7.43" fill="#e6e1e1"/>
<text x="472.50" y="711.36" font-size="9.45px" stroke="#231f20" stroke-width="0.16" font-style="italic">Finegoldia</text>
<rect x="437.30" y="711.58" width="8.05" height="7.43" fill="#e6e1e1"/>
<rect x="445.35" y="711.58" width="8.05" height="7.43" fill="#e6e1e1"/>
<rect x="453.40" y="711.58" width="8.05" height="7.43" fill="#e6e1e1"/>
<rect x="461.45" y="711.58" width="8.05" height="7.43" fill="#981e24"/>
<text x="465.47" y="717.90" font-size="7.6px" stroke="#505058" stroke-width="0.16" text-anchor="middle" fill="#505058">−</text>
<text x="472.50" y="718.80" font-size="9.45px" stroke="#231f20" stroke-width="0.16" font-style="italic">Enterobacter</text>
<rect x="437.30" y="719.01" width="8.05" height="7.43" fill="#e6e1e1"/>
<rect x="445.35" y="719.01" width="8.05" height="7.43" fill="#e6e1e1"/>
<rect x="453.40" y="719.01" width="8.05" height="7.43" fill="#e6e1e1"/>
<rect x="461.45" y="719.01" width="8.05" height="7.43" fill="#9aa1d8"/>
<text x="465.47" y="725.33" font-size="7.6px" stroke="#505058" stroke-width="0.16" text-anchor="middle" fill="#505058">+</text>
<text x="472.50" y="726.23" font-size="9.45px" stroke="#231f20" stroke-width="0.16" font-style="italic">Prevotella</text>
<rect x="437.30" y="726.45" width="8.05" height="7.43" fill="#e6e1e1"/>
<rect x="445.35" y="726.45" width="8.05" height="7.43" fill="#e6e1e1"/>
<rect x="453.40" y="726.45" width="8.05" height="7.43" fill="#e6e1e1"/>
<rect x="461.45" y="726.45" width="8.05" height="7.43" fill="#9aa1d8"/>
<text x="465.47" y="732.77" font-size="7.6px" stroke="#505058" stroke-width="0.16" text-anchor="middle" fill="#505058">+</text>
<text x="472.50" y="733.67" font-size="9.45px" stroke="#231f20" stroke-width="0.16" font-style="italic">Peptoniphilus</text>
<rect x="437.30" y="733.88" width="8.05" height="7.43" fill="#e6e1e1"/>
<rect x="445.35" y="733.88" width="8.05" height="7.43" fill="#e6e1e1"/>
<rect x="453.40" y="733.88" width="8.05" height="7.43" fill="#e6e1e1"/>
<rect x="461.45" y="733.88" width="8.05" height="7.43" fill="#9aa1d8"/>
<text x="465.47" y="740.20" font-size="7.6px" stroke="#505058" stroke-width="0.16" text-anchor="middle" fill="#505058">+</text>
<text x="472.50" y="741.10" font-size="9.45px" stroke="#231f20" stroke-width="0.16" font-style="italic">Dialister</text>
<rect x="437.30" y="741.32" width="8.05" height="7.43" fill="#e6e1e1"/>
<rect x="445.35" y="741.32" width="8.05" height="7.43" fill="#e6e1e1"/>
<rect x="453.40" y="741.32" width="8.05" height="7.43" fill="#e6e1e1"/>
<rect x="461.45" y="741.32" width="8.05" height="7.43" fill="#9aa1d8"/>
<text x="465.47" y="747.64" font-size="7.6px" stroke="#505058" stroke-width="0.16" text-anchor="middle" fill="#505058">+</text>
<text x="472.50" y="748.54" font-size="9.45px" stroke="#231f20" stroke-width="0.16" font-style="italic">Varibaculum</text>
<rect x="437.30" y="748.75" width="8.05" height="7.43" fill="#e6e1e1"/>
<rect x="445.35" y="748.75" width="8.05" height="7.43" fill="#e6e1e1"/>
<rect x="453.40" y="748.75" width="8.05" height="7.43" fill="#e6e1e1"/>
<rect x="461.45" y="748.75" width="8.05" height="7.43" fill="#9aa1d8"/>
<text x="465.47" y="755.07" font-size="7.6px" stroke="#505058" stroke-width="0.16" text-anchor="middle" fill="#505058">+</text>
<text x="472.50" y="755.97" font-size="9.45px" stroke="#231f20" stroke-width="0.16" font-style="italic">Lawsonella</text>
<rect x="437.30" y="756.19" width="8.05" height="7.43" fill="#e6e1e1"/>
<rect x="445.35" y="756.19" width="8.05" height="7.43" fill="#e6e1e1"/>
<rect x="453.40" y="756.19" width="8.05" height="7.43" fill="#e6e1e1"/>
<rect x="461.45" y="756.19" width="8.05" height="7.43" fill="#e4ccd1"/>
<text x="465.47" y="762.51" font-size="7.6px" stroke="#505058" stroke-width="0.16" text-anchor="middle" fill="#505058">−</text>
<text x="472.50" y="763.41" font-size="9.45px" stroke="#231f20" stroke-width="0.16" font-style="italic">Enterococcus</text>
<rect x="437.30" y="763.62" width="8.05" height="7.43" fill="#e6e1e1"/>
<rect x="445.35" y="763.62" width="8.05" height="7.43" fill="#e6e1e1"/>
<rect x="453.40" y="763.62" width="8.05" height="7.43" fill="#e6e1e1"/>
<rect x="461.45" y="763.62" width="8.05" height="7.43" fill="#e4ccd1"/>
<text x="465.47" y="769.94" font-size="7.6px" stroke="#505058" stroke-width="0.16" text-anchor="middle" fill="#505058">−</text>
<text x="472.50" y="770.84" font-size="9.45px" stroke="#231f20" stroke-width="0.16" font-style="italic">Cutibacterium</text>
<rect x="437.30" y="771.06" width="8.05" height="7.43" fill="#e6e1e1"/>
<rect x="445.35" y="771.06" width="8.05" height="7.43" fill="#e6e1e1"/>
<rect x="453.40" y="771.06" width="8.05" height="7.43" fill="#e6e1e1"/>
<rect x="461.45" y="771.06" width="8.05" height="7.43" fill="#e4ccd1"/>
<text x="465.47" y="777.38" font-size="7.6px" stroke="#505058" stroke-width="0.16" text-anchor="middle" fill="#505058">−</text>
<text x="472.50" y="778.28" font-size="9.45px" stroke="#231f20" stroke-width="0.16" font-style="italic">Clostridium_sensu_stricto_1</text>
<rect x="437.30" y="778.49" width="8.05" height="7.43" fill="#e6e1e1"/>
<rect x="445.35" y="778.49" width="8.05" height="7.43" fill="#e6e1e1"/>
<rect x="453.40" y="778.49" width="8.05" height="7.43" fill="#e6e1e1"/>
<rect x="461.45" y="778.49" width="8.05" height="7.43" fill="#d2d5ec"/>
<text x="465.47" y="784.81" font-size="7.6px" stroke="#505058" stroke-width="0.16" text-anchor="middle" fill="#505058">+</text>
<text x="472.50" y="785.71" font-size="9.45px" stroke="#231f20" stroke-width="0.16" font-style="italic">Peptostreptococcus</text>
<rect x="437.30" y="785.93" width="8.05" height="7.43" fill="#e6e1e1"/>
<rect x="445.35" y="785.93" width="8.05" height="7.43" fill="#e6e1e1"/>
<rect x="453.40" y="785.93" width="8.05" height="7.43" fill="#e6e1e1"/>
<rect x="461.45" y="785.93" width="8.05" height="7.43" fill="#e4ccd1"/>
<text x="465.47" y="792.25" font-size="7.6px" stroke="#505058" stroke-width="0.16" text-anchor="middle" fill="#505058">−</text>
<text x="472.50" y="793.15" font-size="9.45px" stroke="#231f20" stroke-width="0.16" font-style="italic">Veillonella</text>
<rect x="437.30" y="793.37" width="8.05" height="7.43" fill="#e6e1e1"/>
<rect x="445.35" y="793.37" width="8.05" height="7.43" fill="#e6e1e1"/>
<rect x="453.40" y="793.37" width="8.05" height="7.43" fill="#e6e1e1"/>
<rect x="461.45" y="793.37" width="8.05" height="7.43" fill="#e4ccd1"/>
<text x="465.47" y="799.68" font-size="7.6px" stroke="#505058" stroke-width="0.16" text-anchor="middle" fill="#505058">−</text>
<text x="472.50" y="800.58" font-size="9.45px" stroke="#231f20" stroke-width="0.16" font-style="italic">Lactococcus</text>
<rect x="437.30" y="800.80" width="8.05" height="7.43" fill="#e6e1e1"/>
<rect x="445.35" y="800.80" width="8.05" height="7.43" fill="#e6e1e1"/>
<rect x="453.40" y="800.80" width="8.05" height="7.43" fill="#e6e1e1"/>
<rect x="461.45" y="800.80" width="8.05" height="7.43" fill="#d2d5ec"/>
<text x="465.47" y="807.12" font-size="7.6px" stroke="#505058" stroke-width="0.16" text-anchor="middle" fill="#505058">+</text>
<text x="472.50" y="808.02" font-size="9.45px" stroke="#231f20" stroke-width="0.16" font-style="italic">Fusobacterium</text>
<rect x="437.30" y="808.23" width="8.05" height="7.43" fill="#e6e1e1"/>
<rect x="445.35" y="808.23" width="8.05" height="7.43" fill="#e6e1e1"/>
<rect x="453.40" y="808.23" width="8.05" height="7.43" fill="#e6e1e1"/>
<rect x="461.45" y="808.23" width="8.05" height="7.43" fill="#d2d5ec"/>
<text x="465.47" y="814.55" font-size="7.6px" stroke="#505058" stroke-width="0.16" text-anchor="middle" fill="#505058">+</text>
<text x="472.50" y="815.45" font-size="9.45px" stroke="#231f20" stroke-width="0.16" font-style="italic">Parabacteroides</text>
<line x1="437.30" y1="503.40" x2="469.50" y2="503.40" stroke="#62574a" stroke-width="0.85"/>
<line x1="437.30" y1="510.83" x2="469.50" y2="510.83" stroke="#62574a" stroke-width="0.85"/>
<line x1="437.30" y1="518.27" x2="469.50" y2="518.27" stroke="#62574a" stroke-width="0.85"/>
<line x1="437.30" y1="525.70" x2="469.50" y2="525.70" stroke="#62574a" stroke-width="0.85"/>
<line x1="437.30" y1="533.14" x2="469.50" y2="533.14" stroke="#62574a" stroke-width="0.85"/>
<line x1="437.30" y1="540.57" x2="469.50" y2="540.57" stroke="#62574a" stroke-width="0.85"/>
<line x1="437.30" y1="548.01" x2="469.50" y2="548.01" stroke="#62574a" stroke-width="0.85"/>
<line x1="437.30" y1="555.44" x2="469.50" y2="555.44" stroke="#62574a" stroke-width="0.85"/>
<line x1="437.30" y1="562.88" x2="469.50" y2="562.88" stroke="#62574a" stroke-width="0.85"/>
<line x1="437.30" y1="570.31" x2="469.50" y2="570.31" stroke="#62574a" stroke-width="0.85"/>
<line x1="437.30" y1="577.75" x2="469.50" y2="577.75" stroke="#62574a" stroke-width="0.85"/>
<line x1="437.30" y1="585.18" x2="469.50" y2="585.18" stroke="#62574a" stroke-width="0.85"/>
<line x1="437.30" y1="592.62" x2="469.50" y2="592.62" stroke="#62574a" stroke-width="0.85"/>
<line x1="437.30" y1="600.05" x2="469.50" y2="600.05" stroke="#62574a" stroke-width="0.85"/>
<line x1="437.30" y1="607.49" x2="469.50" y2="607.49" stroke="#62574a" stroke-width="0.85"/>
<line x1="437.30" y1="614.92" x2="469.50" y2="614.92" stroke="#62574a" stroke-width="0.85"/>
<line x1="437.30" y1="622.36" x2="469.50" y2="622.36" stroke="#62574a" stroke-width="0.85"/>
<line x1="437.30" y1="629.79" x2="469.50" y2="629.79" stroke="#62574a" stroke-width="0.85"/>
<line x1="437.30" y1="637.23" x2="469.50" y2="637.23" stroke="#62574a" stroke-width="0.85"/>
<line x1="437.30" y1="644.66" x2="469.50" y2="644.66" stroke="#62574a" stroke-width="0.85"/>
<line x1="437.30" y1="652.10" x2="469.50" y2="652.10" stroke="#62574a" stroke-width="0.85"/>
<line x1="437.30" y1="659.53" x2="469.50" y2="659.53" stroke="#62574a" stroke-width="0.85"/>
<line x1="437.30" y1="666.97" x2="469.50" y2="666.97" stroke="#62574a" stroke-width="0.85"/>
<line x1="437.30" y1="674.40" x2="469.50" y2="674.40" stroke="#62574a" stroke-width="0.85"/>
<line x1="437.30" y1="681.84" x2="469.50" y2="681.84" stroke="#62574a" stroke-width="0.85"/>
<line x1="437.30" y1="689.27" x2="469.50" y2="689.27" stroke="#62574a" stroke-width="0.85"/>
<line x1="437.30" y1="696.71" x2="469.50" y2="696.71" stroke="#62574a" stroke-width="0.85"/>
<line x1="437.30" y1="704.14" x2="469.50" y2="704.14" stroke="#62574a" stroke-width="0.85"/>
<line x1="437.30" y1="711.58" x2="469.50" y2="711.58" stroke="#62574a" stroke-width="0.85"/>
<line x1="437.30" y1="719.01" x2="469.50" y2="719.01" stroke="#62574a" stroke-width="0.85"/>
<line x1="437.30" y1="726.45" x2="469.50" y2="726.45" stroke="#62574a" stroke-width="0.85"/>
<line x1="437.30" y1="733.88" x2="469.50" y2="733.88" stroke="#62574a" stroke-width="0.85"/>
<line x1="437.30" y1="741.32" x2="469.50" y2="741.32" stroke="#62574a" stroke-width="0.85"/>
<line x1="437.30" y1="748.75" x2="469.50" y2="748.75" stroke="#62574a" stroke-width="0.85"/>
<line x1="437.30" y1="756.19" x2="469.50" y2="756.19" stroke="#62574a" stroke-width="0.85"/>
<line x1="437.30" y1="763.62" x2="469.50" y2="763.62" stroke="#62574a" stroke-width="0.85"/>
<line x1="437.30" y1="771.06" x2="469.50" y2="771.06" stroke="#62574a" stroke-width="0.85"/>
<line x1="437.30" y1="778.49" x2="469.50" y2="778.49" stroke="#62574a" stroke-width="0.85"/>
<line x1="437.30" y1="785.93" x2="469.50" y2="785.93" stroke="#62574a" stroke-width="0.85"/>
<line x1="437.30" y1="793.37" x2="469.50" y2="793.37" stroke="#62574a" stroke-width="0.85"/>
<line x1="437.30" y1="800.80" x2="469.50" y2="800.80" stroke="#62574a" stroke-width="0.85"/>
<line x1="437.30" y1="808.23" x2="469.50" y2="808.23" stroke="#62574a" stroke-width="0.85"/>
<line x1="437.30" y1="815.67" x2="469.50" y2="815.67" stroke="#62574a" stroke-width="0.85"/>
<line x1="437.30" y1="503.40" x2="437.30" y2="815.67" stroke="#62574a" stroke-width="0.85"/>
<line x1="445.35" y1="503.40" x2="445.35" y2="815.67" stroke="#62574a" stroke-width="0.85"/>
<line x1="453.40" y1="503.40" x2="453.40" y2="815.67" stroke="#62574a" stroke-width="0.85"/>
<line x1="461.45" y1="503.40" x2="461.45" y2="815.67" stroke="#62574a" stroke-width="0.85"/>
<line x1="469.50" y1="503.40" x2="469.50" y2="815.67" stroke="#b8ada2" stroke-width="0.85"/>
<text x="0" y="0" transform="translate(438.80,819.50) rotate(90)" font-size="8.4px" stroke="#231f20" stroke-width="0.16">Day 0</text>
<text x="0" y="0" transform="translate(446.85,819.50) rotate(90)" font-size="8.4px" stroke="#231f20" stroke-width="0.16">Day 1</text>
<text x="0" y="0" transform="translate(454.90,819.50) rotate(90)" font-size="8.4px" stroke="#231f20" stroke-width="0.16">Day 4</text>
<text x="0" y="0" transform="translate(462.95,819.50) rotate(90)" font-size="8.4px" stroke="#231f20" stroke-width="0.16">Month 1</text>
<defs><linearGradient id="cb" x1="0" y1="0" x2="0" y2="1"><stop offset="0" stop-color="#283471"/><stop offset="0.25" stop-color="#6a73b8"/><stop offset="0.5" stop-color="#dcdcdc"/><stop offset="0.75" stop-color="#c26f77"/><stop offset="1" stop-color="#8b1a1f"/></linearGradient></defs>
<rect x="594.30" y="652.80" width="6.80" height="95.00" fill="url(#cb)"/>
<text x="603.80" y="657.30" font-size="6.6px" stroke="#231f20" stroke-width="0.16">15</text>
<text x="603.80" y="672.50" font-size="6.6px" stroke="#231f20" stroke-width="0.16">10</text>
<text x="603.80" y="687.40" font-size="6.6px" stroke="#231f20" stroke-width="0.16">5</text>
<text x="603.80" y="702.00" font-size="6.6px" stroke="#231f20" stroke-width="0.16">0</text>
<text x="603.80" y="717.20" font-size="6.6px" stroke="#231f20" stroke-width="0.16">−5</text>
<text x="603.80" y="731.80" font-size="6.6px" stroke="#231f20" stroke-width="0.16">−10</text>
<text x="603.80" y="746.80" font-size="6.6px" stroke="#231f20" stroke-width="0.16">−15</text>
<text x="621.40" y="636.20" font-size="8.1px" stroke="#231f20" stroke-width="0.16" text-anchor="middle">Significant associations</text>
<text x="622.50" y="646.00" font-size="8.1px" stroke="#231f20" stroke-width="0.16" text-anchor="middle">(−log(qval)*sign(coeff))</text>
<text x="615.60" y="657.20" font-size="9.1px" stroke="#231f20" stroke-width="0.16">Vaginal</text>
<text x="634.00" y="669.00" font-size="9.1px" stroke="#231f20" stroke-width="0.16">delivery</text>
<text x="612.80" y="757.60" font-size="9.1px" stroke="#231f20" stroke-width="0.16">Cesarian-section</text>
<text x="638.60" y="768.80" font-size="9.1px" stroke="#231f20" stroke-width="0.16">delivery</text></svg></body></html>
